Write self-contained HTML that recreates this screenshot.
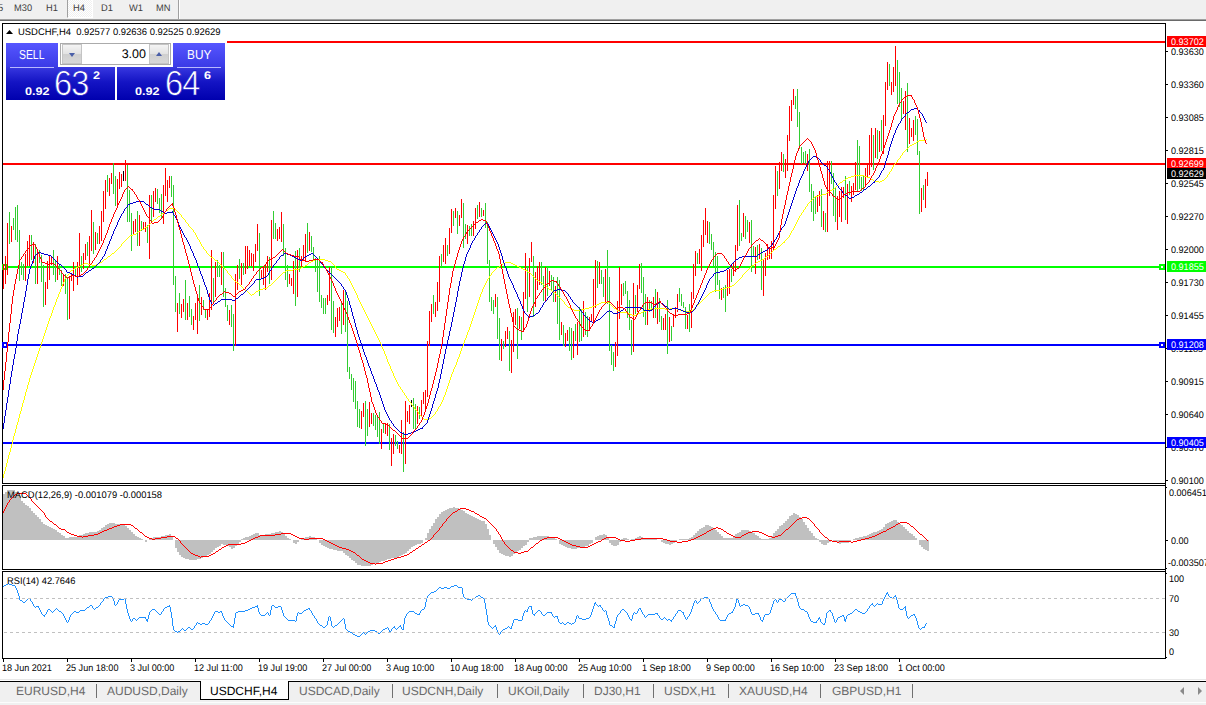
<!DOCTYPE html>
<html><head><meta charset="utf-8"><title>USDCHF,H4</title>
<style>
html,body{margin:0;padding:0;background:#fff;}
body{width:1206px;height:705px;position:relative;overflow:hidden;font-family:"Liberation Sans",sans-serif;text-rendering:geometricPrecision;}
.t{position:absolute;white-space:nowrap;line-height:10px;transform-origin:0 0;font-family:"Liberation Sans",sans-serif;}
.lb{position:absolute;left:1167px;width:39px;height:11px;white-space:nowrap;overflow:hidden;}
.lb span{position:absolute;left:4px;top:1px;font-size:9.6px;line-height:11px;transform:scaleX(0.945);transform-origin:0 0;}
#tb{position:absolute;left:0;top:0;width:1206px;height:19px;background:#f0f0f0;}
#tb span{position:absolute;top:3px;font-size:9px;line-height:11px;color:#3c3c3c;}
#tbl1{position:absolute;left:0;top:19px;width:1206px;height:1px;background:#a0a0a0;}
#tbl2{position:absolute;left:0;top:20px;width:1206px;height:1px;background:#696969;}
#tabs{position:absolute;left:0;top:679px;width:1206px;height:26px;}
svg{position:absolute;left:0;top:0;}

#h4sel{position:absolute;left:67px;top:0;width:26px;height:18px;box-sizing:border-box;border-left:1px solid #a0a0a0;border-right:1px solid #fff;border-bottom:1px solid #fff;background:repeating-conic-gradient(#ffffff 0% 25%,#f0f0f0 0% 50%) 0 0/2px 2px;}
#tbsep1{position:absolute;left:178px;top:0;width:1px;height:19px;background:#a0a0a0;}
#tbsep2{position:absolute;left:179px;top:0;width:1px;height:19px;background:#fff;}
#tbt span{position:absolute;top:3px;font-size:9.6px;line-height:11px;color:#404040;transform:scaleX(0.969);transform-origin:0 0;font-family:"Liberation Sans",sans-serif;}
#pn{position:absolute;left:6px;top:43px;width:219px;height:57px;font-family:"Liberation Sans",sans-serif;}
#pn>*{position:absolute;}
.pb{background:linear-gradient(#5656ff,#3a3ae6);}
.pl{background:linear-gradient(#3838e0,#1414c4 45%,#0000ae);}
.ul{height:1px;background:#b8b8ff;}
#spin{left:54px;top:0;width:111px;height:22px;box-sizing:border-box;border:1px solid #ababab;background:#fff;}
.sb{position:absolute;top:0px;width:20px;height:20px;background:linear-gradient(#f4f4f4,#e2e2e2 50%,#cfcfcf 51%,#d8d8d8);border:1px solid #c4c4c4;box-sizing:border-box;}
.sb i{position:absolute;left:6px;width:0;height:0;border-left:3px solid transparent;border-right:3px solid transparent;}
.sb i.dn{top:8px;border-top:4px solid #4a5fa8;}
.sb i.up{top:7px;border-bottom:4px solid #4a5fa8;}
#vol{position:absolute;right:24px;top:3px;font-size:12.5px;line-height:14px;color:#000;}
.bt{top:5px;font-size:13px;line-height:14px;color:#fff;}
.sm{font-size:11px;line-height:13px;font-weight:bold;color:#fff;transform:scaleX(1.15);transform-origin:0 0;}
.bg{font-size:35px;line-height:36px;color:#fff;-webkit-text-stroke:0.7px #1a1aca;transform:scaleX(0.93);transform-origin:0 0;letter-spacing:-1px;}
#tabbg{position:absolute;left:0;top:3px;width:1206px;height:23px;background:linear-gradient(#f0f0f0 20px,#fcfcfc 20px,#fcfcfc 21px,#f0f0f0 21px);}
#tabln0{position:absolute;left:0;top:0;width:1206px;height:1px;background:#e8e8e8;}
#tabln{position:absolute;left:0;top:2px;width:1206px;height:1px;background:#000;}
#tabact{position:absolute;left:201px;top:1px;width:87px;height:19px;background:#fff;}
#tabactb{position:absolute;left:200px;top:2px;width:89px;height:19px;border:1px solid #000;border-top:none;box-sizing:border-box;}
.tn{position:absolute;top:5px;font-size:12px;line-height:14px;color:#6a6a6a;white-space:nowrap;font-family:"Liberation Sans",sans-serif;}
.tn.act{color:#000;}
.tsep{position:absolute;top:5px;width:1px;height:14px;background:#707070;}
.arl{position:absolute;left:1180px;top:8px;width:0;height:0;border-top:4px solid transparent;border-bottom:4px solid transparent;border-right:4px solid #8a8a8a;}
.arr{position:absolute;left:1198px;top:8px;width:0;height:0;border-top:4px solid transparent;border-bottom:4px solid transparent;border-left:4px solid #8a8a8a;}
</style></head><body>
<div id="tb"></div><div id="tbl1"></div><div id="tbl2"></div>

<div id="h4sel"></div>
<div id="tbsep1"></div><div id="tbsep2"></div>
<div id="tbt">
<span style="left:-2px">5</span><span style="left:14px">M30</span><span style="left:46px">H1</span><span style="left:73px">H4</span><span style="left:101px">D1</span><span style="left:129px">W1</span><span style="left:156px">MN</span>
</div>

<svg width="1206" height="705" viewBox="0 0 1206 705">
<g shape-rendering="crispEdges">
<rect x="227" y="41" width="938" height="2" fill="#ff0000"/>
<rect x="3" y="163" width="1162" height="2" fill="#ff0000"/>
<rect x="3" y="266" width="1162" height="2" fill="#00ff00"/>
<rect x="3" y="344" width="1162" height="2" fill="#0000ff"/>
<rect x="3" y="442" width="1162" height="2" fill="#0000ff"/>
<path d="M2 264h6v6h-6z M1159 264h6v6h-6z" fill="#00ff00"/>
<path d="M4 266h2v2h-2z M1161 266h2v2h-2z" fill="#fff"/>
<path d="M2 342h6v6h-6z M1159 342h6v6h-6z" fill="#0000ff"/>
<path d="M4 344h2v2h-2z M1161 344h2v2h-2z" fill="#fff"/>
<path d="M9 212v32h1v-32zM13 218v12h1v-12zM15 207v33h1v-33zM17 205v37h1v-37zM19 230v51h1v-51zM21 262v13h1v-13zM23 264v16h1v-16zM31 235v25h1v-25zM35 244v40h1v-40zM39 250v13h1v-13zM41 255v27h1v-27zM43 265v42h1v-42zM53 250v25h1v-25zM55 260v22h1v-22zM59 264v11h1v-11zM61 270v16h1v-16zM65 274v20h1v-20zM67 277v43h1v-43zM75 267v10h1v-10zM81 256v16h1v-16zM87 242v14h1v-14zM93 222v32h1v-32zM97 233v11h1v-11zM107 175v17h1v-17zM113 163v31h1v-31zM115 176v30h1v-30zM127 165v57h1v-57zM129 190v32h1v-32zM131 213v38h1v-38zM137 211v35h1v-35zM141 221v10h1v-10zM147 225v18h1v-18zM151 195v27h1v-27zM157 189v15h1v-15zM159 198v15h1v-15zM161 194v25h1v-25zM171 176v21h1v-21zM173 185v100h1v-100zM175 276v36h1v-36zM179 293v21h1v-21zM185 280v40h1v-40zM189 296v21h1v-21zM191 309v16h1v-16zM199 285v36h1v-36zM203 300v10h1v-10zM205 310v8h1v-8zM213 278v25h1v-25zM217 260v17h1v-17zM219 265v12h1v-12zM223 252v45h1v-45zM225 288v19h1v-19zM227 305v16h1v-16zM231 305v22h1v-22zM233 314v37h1v-37zM239 259v20h1v-20zM243 263v12h1v-12zM259 233v63h1v-63zM269 257v27h1v-27zM273 211v28h1v-28zM275 223v16h1v-16zM283 224v32h1v-32zM285 248v32h1v-32zM287 265v22h1v-22zM295 251v55h1v-55zM299 248v24h1v-24zM307 223v30h1v-30zM311 236v16h1v-16zM313 247v13h1v-13zM315 258v14h1v-14zM317 259v33h1v-33zM319 256v46h1v-46zM321 295v13h1v-13zM323 298v16h1v-16zM325 298v16h1v-16zM331 267v63h1v-63zM333 301v32h1v-32zM341 301v33h1v-33zM345 292v40h1v-40zM347 301v71h1v-71zM349 367v12h1v-12zM351 374v16h1v-16zM353 378v24h1v-24zM355 381v28h1v-28zM357 401v26h1v-26zM359 409v19h1v-19zM365 401v45h1v-45zM367 409v27h1v-27zM373 413v13h1v-13zM375 415v15h1v-15zM377 417v20h1v-20zM379 412v32h1v-32zM383 424v9h1v-9zM389 424v26h1v-26zM395 435v11h1v-11zM397 441v8h1v-8zM403 432v40h1v-40zM413 398v31h1v-31zM415 404v26h1v-26zM419 407v12h1v-12zM433 295v19h1v-19zM441 254v13h1v-13zM447 245v11h1v-11zM453 211v15h1v-15zM457 211v23h1v-23zM463 203v45h1v-45zM465 224v15h1v-15zM469 226v10h1v-10zM471 224v12h1v-12zM477 205v14h1v-14zM481 208v9h1v-9zM485 203v25h1v-25zM487 222v42h1v-42zM489 260v42h1v-42zM491 297v14h1v-14zM493 300v14h1v-14zM497 297v42h1v-42zM499 318v42h1v-42zM503 341v8h1v-8zM509 331v40h1v-40zM517 308v51h1v-51zM521 317v23h1v-23zM527 267v45h1v-45zM533 256v61h1v-61zM541 262v23h1v-23zM543 276v25h1v-25zM547 267v29h1v-29zM551 275v16h1v-16zM553 277v25h1v-25zM557 277v47h1v-47zM559 280v60h1v-60zM563 325v21h1v-21zM569 327v24h1v-24zM571 328v32h1v-32zM575 324v17h1v-17zM579 307v35h1v-35zM581 309v32h1v-32zM585 312v23h1v-23zM587 316v21h1v-21zM597 261v27h1v-27zM601 270v14h1v-14zM603 277v20h1v-20zM607 250v54h1v-54zM609 277v74h1v-74zM611 345v20h1v-20zM613 352v19h1v-19zM623 283v13h1v-13zM625 281v13h1v-13zM627 291v27h1v-27zM629 300v30h1v-30zM631 320v35h1v-35zM635 295v19h1v-19zM641 263v30h1v-30zM643 277v40h1v-40zM645 294v31h1v-31zM649 300v12h1v-12zM651 301v9h1v-9zM655 289v29h1v-29zM659 298v24h1v-24zM661 316v14h1v-14zM667 300v54h1v-54zM671 326v15h1v-15zM679 288v14h1v-14zM681 294v12h1v-12zM683 302v6h1v-6zM685 307v22h1v-22zM689 304v28h1v-28zM697 253v11h1v-11zM709 222v22h1v-22zM711 234v16h1v-16zM713 242v24h1v-24zM715 252v40h1v-40zM717 256v29h1v-29zM719 280v19h1v-19zM723 287v11h1v-11zM725 285v27h1v-27zM731 269v13h1v-13zM739 200v46h1v-46zM741 233v8h1v-8zM745 216v23h1v-23zM747 220v12h1v-12zM751 220v52h1v-52zM753 246v11h1v-11zM757 245v15h1v-15zM761 248v42h1v-42zM777 171v25h1v-25zM783 154v18h1v-18zM795 96v13h1v-13zM797 89v38h1v-38zM799 112v37h1v-37zM801 147v17h1v-17zM803 152v11h1v-11zM805 151v13h1v-13zM809 149v43h1v-43zM811 184v28h1v-28zM813 191v30h1v-30zM815 197v17h1v-17zM821 189v38h1v-38zM825 213v19h1v-19zM831 161v23h1v-23zM833 173v43h1v-43zM835 187v35h1v-35zM845 176v44h1v-44zM849 181v14h1v-14zM857 140v52h1v-52zM859 146v43h1v-43zM861 177v14h1v-14zM863 175v15h1v-15zM873 135v35h1v-35zM877 130v29h1v-29zM881 120v31h1v-31zM889 64v22h1v-22zM897 60v44h1v-44zM899 72v35h1v-35zM901 88v31h1v-31zM907 83v69h1v-69zM915 116v19h1v-19zM917 119v36h1v-36zM919 151v63h1v-63zM923 185v15h1v-15z" fill="#32cd32"/>
<path d="M3 264v25h1v-25zM5 256v28h1v-28zM7 223v52h1v-52zM11 226v16h1v-16zM25 254v27h1v-27zM27 241v25h1v-25zM29 235v31h1v-31zM33 242v21h1v-21zM37 250v34h1v-34zM45 282v23h1v-23zM47 261v28h1v-28zM49 255v25h1v-25zM51 256v9h1v-9zM57 256v24h1v-24zM63 274v12h1v-12zM69 276v43h1v-43zM71 274v7h1v-7zM73 262v29h1v-29zM77 262v23h1v-23zM79 233v44h1v-44zM83 253v16h1v-16zM85 244v16h1v-16zM89 236v28h1v-28zM91 210v41h1v-41zM95 232v18h1v-18zM99 226v18h1v-18zM101 211v30h1v-30zM103 191v31h1v-31zM105 180v29h1v-29zM109 178v18h1v-18zM111 173v11h1v-11zM117 179v28h1v-28zM119 172v17h1v-17zM121 174v13h1v-13zM125 160v21h1v-21zM133 221v14h1v-14zM135 219v13h1v-13zM139 215v31h1v-31zM143 222v7h1v-7zM145 222v10h1v-10zM149 195v64h1v-64zM153 191v26h1v-26zM155 188v14h1v-14zM163 185v39h1v-39zM165 168v28h1v-28zM167 180v22h1v-22zM169 176v12h1v-12zM177 303v29h1v-29zM181 304v14h1v-14zM183 299v13h1v-13zM187 303v17h1v-17zM193 316v14h1v-14zM195 303v17h1v-17zM197 294v40h1v-40zM201 297v18h1v-18zM207 310v10h1v-10zM209 293v24h1v-24zM211 250v60h1v-60zM215 262v35h1v-35zM221 252v33h1v-33zM229 310v15h1v-15zM235 274v72h1v-72zM237 265v25h1v-25zM241 263v22h1v-22zM245 246v28h1v-28zM247 246v23h1v-23zM249 250v16h1v-16zM251 253v13h1v-13zM253 254v17h1v-17zM255 244v18h1v-18zM257 224v27h1v-27zM261 270v8h1v-8zM263 267v18h1v-18zM265 264v26h1v-26zM267 256v16h1v-16zM271 220v60h1v-60zM277 229v12h1v-12zM279 227v12h1v-12zM281 212v30h1v-30zM289 274v10h1v-10zM291 278v8h1v-8zM293 261v33h1v-33zM297 250v47h1v-47zM301 256v11h1v-11zM303 245v15h1v-15zM305 234v28h1v-28zM309 232v19h1v-19zM327 295v10h1v-10zM329 267v34h1v-34zM335 317v20h1v-20zM337 308v19h1v-19zM339 307v14h1v-14zM343 290v35h1v-35zM361 411v18h1v-18zM363 403v14h1v-14zM369 402v25h1v-25zM371 413v11h1v-11zM381 429v20h1v-20zM385 423v11h1v-11zM387 423v13h1v-13zM391 438v28h1v-28zM393 434v20h1v-20zM399 445v8h1v-8zM401 420v34h1v-34zM405 401v63h1v-63zM407 411v11h1v-11zM409 405v19h1v-19zM417 406v18h1v-18zM421 400v16h1v-16zM423 392v12h1v-12zM425 390v20h1v-20zM427 341v56h1v-56zM429 311v35h1v-35zM431 304v18h1v-18zM435 302v15h1v-15zM437 282v29h1v-29zM439 256v46h1v-46zM443 245v17h1v-17zM445 238v26h1v-26zM449 228v26h1v-26zM451 209v24h1v-24zM455 208v10h1v-10zM459 215v11h1v-11zM461 199v19h1v-19zM467 225v19h1v-19zM473 221v15h1v-15zM475 208v21h1v-21zM479 202v15h1v-15zM483 210v6h1v-6zM495 294v13h1v-13zM501 339v22h1v-22zM505 331v16h1v-16zM507 327v12h1v-12zM511 340v33h1v-33zM513 312v40h1v-40zM515 309v16h1v-16zM519 316v13h1v-13zM523 292v39h1v-39zM525 253v46h1v-46zM529 258v39h1v-39zM531 242v20h1v-20zM535 272v35h1v-35zM537 266v24h1v-24zM539 262v23h1v-23zM545 267v34h1v-34zM549 271v15h1v-15zM555 286v16h1v-16zM561 322v13h1v-13zM565 333v14h1v-14zM567 330v11h1v-11zM573 331v27h1v-27zM577 322v33h1v-33zM583 301v36h1v-36zM589 317v14h1v-14zM591 314v8h1v-8zM593 279v44h1v-44zM595 260v48h1v-48zM599 262v22h1v-22zM605 269v33h1v-33zM615 342v25h1v-25zM617 301v55h1v-55zM619 267v52h1v-52zM621 284v21h1v-21zM633 283v69h1v-69zM637 285v27h1v-27zM639 264v25h1v-25zM647 297v28h1v-28zM653 297v21h1v-21zM657 292v32h1v-32zM663 318v12h1v-12zM665 314v16h1v-16zM669 317v25h1v-25zM673 314v13h1v-13zM675 307v11h1v-11zM677 294v18h1v-18zM687 315v14h1v-14zM691 292v36h1v-36zM693 264v35h1v-35zM695 251v25h1v-25zM699 249v15h1v-15zM701 235v36h1v-36zM703 220v27h1v-27zM705 208v27h1v-27zM707 221v22h1v-22zM721 288v12h1v-12zM727 270v26h1v-26zM729 269v25h1v-25zM733 262v14h1v-14zM735 245v27h1v-27zM737 205v46h1v-46zM743 213v24h1v-24zM749 222v21h1v-21zM755 247v27h1v-27zM759 244v15h1v-15zM763 259v37h1v-37zM765 253v23h1v-23zM767 244v16h1v-16zM769 247v12h1v-12zM771 241v18h1v-18zM773 195v55h1v-55zM775 166v43h1v-43zM779 162v27h1v-27zM781 152v19h1v-19zM785 159v19h1v-19zM787 135v36h1v-36zM789 106v35h1v-35zM791 100v21h1v-21zM793 89v16h1v-16zM807 154v17h1v-17zM817 195v17h1v-17zM819 191v15h1v-15zM823 211v19h1v-19zM827 161v71h1v-71zM829 161v35h1v-35zM837 196v34h1v-34zM839 191v26h1v-26zM841 187v35h1v-35zM843 187v11h1v-11zM847 184v40h1v-40zM851 186v16h1v-16zM853 183v12h1v-12zM855 162v28h1v-28zM865 168v18h1v-18zM867 165v12h1v-12zM869 135v40h1v-40zM871 128v39h1v-39zM875 128v30h1v-30zM879 131v21h1v-21zM883 115v39h1v-39zM885 82v44h1v-44zM887 62v28h1v-28zM891 82v13h1v-13zM893 67v25h1v-25zM895 46v40h1v-40zM903 101v13h1v-13zM905 91v39h1v-39zM909 118v26h1v-26zM911 128v9h1v-9zM913 120v21h1v-21zM921 188v24h1v-24zM925 179v29h1v-29zM927 172v14h1v-14z" fill="#ff0000"/>
<path d="M123 171v10h1v-10zM411 400v7h1v-7z" fill="#000000"/>
<path d="M3 494h2V540h-2zM5 492h2V540h-2zM7 490h2V540h-2zM9 490h2V540h-2zM11 490h2V540h-2zM13 490h2V540h-2zM15 492h2V540h-2zM17 494h2V540h-2zM19 496h2V540h-2zM21 501h2V540h-2zM23 503h2V540h-2zM25 505h2V540h-2zM27 506h2V540h-2zM29 508h2V540h-2zM31 511h2V540h-2zM33 513h2V540h-2zM35 515h2V540h-2zM37 517h2V540h-2zM39 519h2V540h-2zM41 522h2V540h-2zM43 524h2V540h-2zM45 525h2V540h-2zM47 526h2V540h-2zM49 527h2V540h-2zM51 528h2V540h-2zM53 529h2V540h-2zM55 530h2V540h-2zM57 532h2V540h-2zM59 533h2V540h-2zM61 535h2V540h-2zM63 536h2V540h-2zM65 538h2V540h-2zM67 538h2V540h-2zM69 537h2V540h-2zM71 537h2V540h-2zM73 537h2V540h-2zM75 537h2V540h-2zM77 536h2V540h-2zM79 535h2V540h-2zM81 535h2V540h-2zM83 534h2V540h-2zM85 533h2V540h-2zM87 533h2V540h-2zM89 532h2V540h-2zM91 532h2V540h-2zM93 532h2V540h-2zM95 532h2V540h-2zM97 531h2V540h-2zM99 530h2V540h-2zM101 528h2V540h-2zM103 527h2V540h-2zM105 525h2V540h-2zM107 524h2V540h-2zM109 523h2V540h-2zM111 523h2V540h-2zM113 523h2V540h-2zM115 524h2V540h-2zM117 524h2V540h-2zM119 524h2V540h-2zM121 525h2V540h-2zM123 525h2V540h-2zM125 526h2V540h-2zM127 528h2V540h-2zM129 530h2V540h-2zM131 532h2V540h-2zM133 534h2V540h-2zM135 536h2V540h-2zM137 537h2V540h-2zM139 538h2V540h-2zM141 539h2V540h-2zM145 540h2V542h-2zM149 539h2V540h-2zM151 538h2V540h-2zM153 537h2V540h-2zM155 537h2V540h-2zM157 537h2V540h-2zM159 537h2V540h-2zM161 536h2V540h-2zM163 536h2V540h-2zM165 535h2V540h-2zM167 535h2V540h-2zM169 534h2V540h-2zM171 536h2V540h-2zM175 540h2V548h-2zM177 540h2V552h-2zM179 540h2V555h-2zM181 540h2V557h-2zM183 540h2V558h-2zM185 540h2V559h-2zM187 540h2V559h-2zM189 540h2V560h-2zM191 540h2V560h-2zM193 540h2V560h-2zM195 540h2V560h-2zM197 540h2V559h-2zM199 540h2V559h-2zM201 540h2V558h-2zM203 540h2V557h-2zM205 540h2V556h-2zM207 540h2V555h-2zM209 540h2V554h-2zM211 540h2V552h-2zM213 540h2V550h-2zM215 540h2V548h-2zM217 540h2V547h-2zM219 540h2V546h-2zM221 540h2V544h-2zM223 540h2V545h-2zM225 540h2V545h-2zM227 540h2V546h-2zM229 540h2V547h-2zM231 540h2V549h-2zM233 540h2V548h-2zM235 540h2V546h-2zM237 540h2V544h-2zM239 540h2V542h-2zM241 539h2V540h-2zM243 538h2V540h-2zM245 537h2V540h-2zM247 537h2V540h-2zM249 536h2V540h-2zM251 535h2V540h-2zM253 534h2V540h-2zM255 533h2V540h-2zM257 533h2V540h-2zM259 535h2V540h-2zM261 535h2V540h-2zM263 535h2V540h-2zM265 534h2V540h-2zM267 534h2V540h-2zM269 534h2V540h-2zM271 533h2V540h-2zM273 533h2V540h-2zM275 532h2V540h-2zM277 532h2V540h-2zM279 531h2V540h-2zM281 532h2V540h-2zM283 534h2V540h-2zM285 536h2V540h-2zM287 538h2V540h-2zM289 539h2V540h-2zM293 540h2V543h-2zM295 540h2V544h-2zM297 540h2V542h-2zM301 539h2V540h-2zM303 538h2V540h-2zM305 537h2V540h-2zM307 537h2V540h-2zM309 536h2V540h-2zM311 537h2V540h-2zM313 537h2V540h-2zM315 539h2V540h-2zM319 540h2V543h-2zM321 540h2V545h-2zM323 540h2V546h-2zM325 540h2V547h-2zM327 540h2V548h-2zM329 540h2V549h-2zM331 540h2V549h-2zM333 540h2V550h-2zM335 540h2V550h-2zM337 540h2V551h-2zM339 540h2V551h-2zM341 540h2V551h-2zM343 540h2V553h-2zM345 540h2V555h-2zM347 540h2V556h-2zM349 540h2V558h-2zM351 540h2V560h-2zM353 540h2V561h-2zM355 540h2V563h-2zM357 540h2V565h-2zM359 540h2V565h-2zM361 540h2V566h-2zM363 540h2V566h-2zM365 540h2V566h-2zM367 540h2V566h-2zM369 540h2V566h-2zM371 540h2V565h-2zM373 540h2V564h-2zM375 540h2V564h-2zM377 540h2V563h-2zM379 540h2V562h-2zM381 540h2V561h-2zM383 540h2V561h-2zM385 540h2V560h-2zM387 540h2V559h-2zM389 540h2V559h-2zM391 540h2V558h-2zM393 540h2V558h-2zM395 540h2V558h-2zM397 540h2V557h-2zM399 540h2V556h-2zM401 540h2V555h-2zM403 540h2V554h-2zM405 540h2V553h-2zM407 540h2V551h-2zM409 540h2V549h-2zM411 540h2V547h-2zM413 540h2V546h-2zM415 540h2V545h-2zM417 540h2V544h-2zM419 540h2V544h-2zM421 540h2V543h-2zM425 538h2V540h-2zM427 533h2V540h-2zM429 529h2V540h-2zM431 526h2V540h-2zM433 523h2V540h-2zM435 519h2V540h-2zM437 517h2V540h-2zM439 514h2V540h-2zM441 512h2V540h-2zM443 511h2V540h-2zM445 510h2V540h-2zM447 509h2V540h-2zM449 508h2V540h-2zM451 508h2V540h-2zM453 507h2V540h-2zM455 508h2V540h-2zM457 508h2V540h-2zM459 509h2V540h-2zM461 510h2V540h-2zM463 511h2V540h-2zM465 513h2V540h-2zM467 514h2V540h-2zM469 515h2V540h-2zM471 516h2V540h-2zM473 517h2V540h-2zM475 518h2V540h-2zM477 519h2V540h-2zM479 520h2V540h-2zM481 521h2V540h-2zM483 521h2V540h-2zM485 524h2V540h-2zM487 529h2V540h-2zM489 535h2V540h-2zM493 540h2V544h-2zM495 540h2V547h-2zM497 540h2V550h-2zM499 540h2V553h-2zM501 540h2V554h-2zM503 540h2V555h-2zM505 540h2V556h-2zM507 540h2V556h-2zM509 540h2V557h-2zM511 540h2V556h-2zM513 540h2V554h-2zM515 540h2V553h-2zM517 540h2V551h-2zM519 540h2V550h-2zM521 540h2V548h-2zM523 540h2V546h-2zM525 540h2V545h-2zM527 540h2V542h-2zM529 538h2V540h-2zM531 538h2V540h-2zM533 537h2V540h-2zM535 537h2V540h-2zM537 536h2V540h-2zM539 536h2V540h-2zM541 536h2V540h-2zM543 536h2V540h-2zM545 536h2V540h-2zM547 536h2V540h-2zM549 537h2V540h-2zM551 537h2V540h-2zM553 538h2V540h-2zM555 539h2V540h-2zM559 540h2V544h-2zM561 540h2V545h-2zM563 540h2V546h-2zM565 540h2V547h-2zM567 540h2V548h-2zM569 540h2V548h-2zM571 540h2V549h-2zM573 540h2V549h-2zM575 540h2V549h-2zM577 540h2V548h-2zM579 540h2V548h-2zM581 540h2V547h-2zM583 540h2V547h-2zM585 540h2V546h-2zM587 540h2V546h-2zM589 540h2V544h-2zM591 540h2V543h-2zM595 537h2V540h-2zM597 536h2V540h-2zM599 535h2V540h-2zM601 535h2V540h-2zM603 534h2V540h-2zM605 535h2V540h-2zM607 538h2V540h-2zM609 540h2V543h-2zM611 540h2V545h-2zM613 540h2V546h-2zM615 540h2V546h-2zM617 540h2V545h-2zM619 540h2V542h-2zM621 539h2V540h-2zM623 538h2V540h-2zM625 538h2V540h-2zM627 539h2V540h-2zM631 539h2V540h-2zM633 539h2V540h-2zM635 538h2V540h-2zM637 537h2V540h-2zM639 536h2V540h-2zM641 537h2V540h-2zM643 538h2V540h-2zM645 538h2V540h-2zM647 538h2V540h-2zM649 538h2V540h-2zM651 538h2V540h-2zM653 539h2V540h-2zM655 539h2V540h-2zM661 540h2V542h-2zM663 540h2V543h-2zM665 540h2V544h-2zM667 540h2V544h-2zM669 540h2V545h-2zM671 540h2V544h-2zM673 540h2V543h-2zM675 540h2V542h-2zM679 539h2V540h-2zM681 539h2V540h-2zM683 539h2V540h-2zM685 539h2V540h-2zM687 539h2V540h-2zM689 538h2V540h-2zM691 537h2V540h-2zM693 535h2V540h-2zM695 533h2V540h-2zM697 531h2V540h-2zM699 529h2V540h-2zM701 528h2V540h-2zM703 527h2V540h-2zM705 525h2V540h-2zM707 525h2V540h-2zM709 526h2V540h-2zM711 527h2V540h-2zM713 529h2V540h-2zM715 530h2V540h-2zM717 532h2V540h-2zM719 534h2V540h-2zM721 536h2V540h-2zM723 538h2V540h-2zM725 538h2V540h-2zM727 538h2V540h-2zM729 538h2V540h-2zM731 538h2V540h-2zM733 536h2V540h-2zM735 534h2V540h-2zM737 533h2V540h-2zM739 532h2V540h-2zM741 530h2V540h-2zM743 530h2V540h-2zM745 530h2V540h-2zM747 530h2V540h-2zM749 531h2V540h-2zM751 532h2V540h-2zM753 533h2V540h-2zM755 535h2V540h-2zM757 536h2V540h-2zM759 538h2V540h-2zM761 539h2V540h-2zM763 539h2V540h-2zM765 539h2V540h-2zM767 539h2V540h-2zM769 538h2V540h-2zM771 536h2V540h-2zM773 533h2V540h-2zM775 531h2V540h-2zM777 529h2V540h-2zM779 526h2V540h-2zM781 525h2V540h-2zM783 523h2V540h-2zM785 521h2V540h-2zM787 519h2V540h-2zM789 516h2V540h-2zM791 515h2V540h-2zM793 513h2V540h-2zM795 514h2V540h-2zM797 515h2V540h-2zM799 517h2V540h-2zM801 519h2V540h-2zM803 522h2V540h-2zM805 525h2V540h-2zM807 528h2V540h-2zM809 531h2V540h-2zM811 533h2V540h-2zM813 536h2V540h-2zM815 538h2V540h-2zM817 539h2V540h-2zM819 540h2V542h-2zM821 540h2V544h-2zM823 540h2V545h-2zM825 540h2V545h-2zM827 540h2V543h-2zM829 540h2V542h-2zM833 540h2V542h-2zM835 540h2V542h-2zM837 540h2V543h-2zM839 540h2V544h-2zM841 540h2V543h-2zM843 540h2V543h-2zM845 540h2V543h-2zM847 540h2V543h-2zM849 540h2V542h-2zM853 539h2V540h-2zM855 538h2V540h-2zM857 538h2V540h-2zM859 537h2V540h-2zM861 537h2V540h-2zM863 536h2V540h-2zM865 536h2V540h-2zM867 535h2V540h-2zM869 534h2V540h-2zM871 533h2V540h-2zM873 532h2V540h-2zM875 532h2V540h-2zM877 531h2V540h-2zM879 530h2V540h-2zM881 529h2V540h-2zM883 527h2V540h-2zM885 524h2V540h-2zM887 523h2V540h-2zM889 522h2V540h-2zM891 521h2V540h-2zM893 520h2V540h-2zM895 520h2V540h-2zM897 522h2V540h-2zM899 524h2V540h-2zM901 525h2V540h-2zM903 527h2V540h-2zM905 529h2V540h-2zM907 531h2V540h-2zM909 533h2V540h-2zM911 534h2V540h-2zM913 536h2V540h-2zM915 538h2V540h-2zM919 540h2V545h-2zM921 540h2V547h-2zM923 540h2V549h-2zM925 540h2V550h-2zM927 540h2V551h-2z" fill="#c0c0c0"/>
</g>
<g shape-rendering="crispEdges">
<path d="M3 474h1v4h-1zM4 471h1v3h-1zM5 467h1v4h-1zM6 463h1v4h-1zM7 459h1v4h-1zM8 455h1v4h-1zM9 452h1v3h-1zM10 448h1v4h-1zM11 444h1v4h-1zM12 440h1v4h-1zM13 436h1v4h-1zM14 433h1v3h-1zM15 429h1v4h-1zM16 425h1v4h-1zM17 422h1v3h-1zM18 418h1v4h-1zM19 414h1v4h-1zM20 411h1v3h-1zM21 407h1v4h-1zM22 403h1v4h-1zM23 400h1v3h-1zM24 396h1v4h-1zM25 392h1v4h-1zM26 389h1v3h-1zM27 385h1v4h-1zM28 382h1v3h-1zM29 378h1v4h-1zM30 375h1v3h-1zM31 372h1v3h-1zM32 369h1v3h-1zM33 366h1v3h-1zM34 363h1v3h-1zM35 360h1v3h-1zM36 357h1v3h-1zM37 354h1v3h-1zM38 351h1v3h-1zM39 348h1v3h-1zM40 345h1v3h-1zM41 342h1v3h-1zM42 339h1v3h-1zM43 336h1v3h-1zM44 333h1v3h-1zM45 330h1v3h-1zM46 327h1v3h-1zM47 324h1v3h-1zM48 321h1v3h-1zM49 318h1v3h-1zM50 316h1v2h-1zM51 313h1v3h-1zM52 310h1v3h-1zM53 307h1v3h-1zM54 305h1v2h-1zM55 302h1v3h-1zM56 299h1v3h-1zM57 297h1v2h-1zM58 294h1v3h-1zM59 292h1v2h-1zM60 289h1v3h-1zM61 287h1v2h-1zM62 284h1v3h-1zM63 282h1v2h-1zM64 279h1v3h-1zM65 278h1v1h-1zM66 276h1v2h-1zM67 275h1v1h-1zM68 274h1v1h-1zM69 272h1v2h-1zM70 271h1v1h-1zM71 270h1v1h-1zM72 270h1v1h-1zM73 269h1v1h-1zM74 268h1v1h-1zM75 268h1v1h-1zM76 267h1v1h-1zM77 267h1v1h-1zM78 266h1v1h-1zM79 266h1v1h-1zM80 265h1v1h-1zM81 265h1v1h-1zM82 264h1v1h-1zM83 264h1v1h-1zM84 263h1v1h-1zM85 263h1v1h-1zM86 263h1v1h-1zM87 263h1v1h-1zM88 264h1v1h-1zM89 264h1v1h-1zM90 264h1v1h-1zM91 264h1v1h-1zM92 265h1v1h-1zM93 265h1v1h-1zM94 265h1v1h-1zM95 265h1v1h-1zM96 264h1v1h-1zM97 264h1v1h-1zM98 263h1v1h-1zM99 263h1v1h-1zM100 262h1v1h-1zM101 262h1v1h-1zM102 261h1v1h-1zM103 260h1v1h-1zM104 259h1v1h-1zM105 259h1v1h-1zM106 258h1v1h-1zM107 257h1v1h-1zM108 256h1v1h-1zM109 256h1v1h-1zM110 255h1v1h-1zM111 254h1v1h-1zM112 253h1v1h-1zM113 253h1v1h-1zM114 252h1v1h-1zM115 251h1v1h-1zM116 250h1v1h-1zM117 249h1v1h-1zM118 248h1v1h-1zM119 247h1v1h-1zM120 246h1v1h-1zM121 244h1v2h-1zM122 243h1v1h-1zM123 242h1v1h-1zM124 241h1v1h-1zM125 240h1v1h-1zM126 239h1v1h-1zM127 238h1v1h-1zM128 237h1v1h-1zM129 236h1v1h-1zM130 235h1v1h-1zM131 235h1v1h-1zM132 235h1v1h-1zM133 234h1v1h-1zM134 234h1v1h-1zM135 234h1v1h-1zM136 233h1v1h-1zM137 232h1v1h-1zM138 231h1v1h-1zM139 231h1v1h-1zM140 230h1v1h-1zM141 229h1v1h-1zM142 229h1v1h-1zM143 229h1v1h-1zM144 228h1v1h-1zM145 227h1v1h-1zM146 227h1v1h-1zM147 226h1v1h-1zM148 225h1v1h-1zM149 224h1v1h-1zM150 223h1v1h-1zM151 222h1v1h-1zM152 221h1v1h-1zM153 220h1v1h-1zM154 219h1v1h-1zM155 219h1v1h-1zM156 218h1v1h-1zM157 217h1v1h-1zM158 216h1v1h-1zM159 216h1v1h-1zM160 215h1v1h-1zM161 214h1v1h-1zM162 213h1v1h-1zM163 213h1v1h-1zM164 212h1v1h-1zM165 211h1v1h-1zM166 210h1v1h-1zM167 210h1v1h-1zM168 209h1v1h-1zM169 208h1v1h-1zM170 208h1v1h-1zM171 208h1v1h-1zM172 208h1v1h-1zM173 208h1v1h-1zM174 208h1v1h-1zM175 209h1v1h-1zM176 210h1v1h-1zM177 211h1v1h-1zM178 212h1v1h-1zM179 213h1v1h-1zM180 214h1v1h-1zM181 215h1v2h-1zM182 217h1v1h-1zM183 218h1v1h-1zM184 219h1v1h-1zM185 220h1v2h-1zM186 222h1v1h-1zM187 223h1v1h-1zM188 224h1v2h-1zM189 226h1v1h-1zM190 227h1v1h-1zM191 228h1v1h-1zM192 229h1v1h-1zM193 230h1v2h-1zM194 232h1v1h-1zM195 233h1v2h-1zM196 235h1v2h-1zM197 237h1v2h-1zM198 239h1v1h-1zM199 240h1v2h-1zM200 242h1v2h-1zM201 244h1v2h-1zM202 246h1v1h-1zM203 247h1v2h-1zM204 249h1v1h-1zM205 250h1v1h-1zM206 251h1v2h-1zM207 253h1v1h-1zM208 254h1v1h-1zM209 255h1v1h-1zM210 256h1v1h-1zM211 257h1v1h-1zM212 257h1v1h-1zM213 258h1v1h-1zM214 259h1v1h-1zM215 260h1v1h-1zM216 260h1v1h-1zM217 261h1v1h-1zM218 262h1v1h-1zM219 263h1v1h-1zM220 264h1v1h-1zM221 265h1v1h-1zM222 266h1v1h-1zM223 267h1v1h-1zM224 268h1v1h-1zM225 269h1v1h-1zM226 270h1v1h-1zM227 271h1v2h-1zM228 273h1v1h-1zM229 274h1v1h-1zM230 275h1v1h-1zM231 276h1v2h-1zM232 278h1v1h-1zM233 279h1v1h-1zM234 280h1v1h-1zM235 281h1v1h-1zM236 282h1v1h-1zM237 282h1v1h-1zM238 283h1v1h-1zM239 284h1v1h-1zM240 285h1v1h-1zM241 286h1v1h-1zM242 287h1v1h-1zM243 288h1v1h-1zM244 289h1v1h-1zM245 290h1v1h-1zM246 290h1v1h-1zM247 291h1v1h-1zM248 292h1v1h-1zM249 293h1v1h-1zM250 294h1v1h-1zM251 295h1v1h-1zM252 294h1v1h-1zM253 294h1v1h-1zM254 293h1v1h-1zM255 292h1v1h-1zM256 291h1v1h-1zM257 291h1v1h-1zM258 290h1v1h-1zM259 290h1v1h-1zM260 289h1v1h-1zM261 289h1v1h-1zM262 289h1v1h-1zM263 288h1v1h-1zM264 288h1v1h-1zM265 288h1v1h-1zM266 288h1v1h-1zM267 287h1v1h-1zM268 286h1v1h-1zM269 285h1v1h-1zM270 285h1v1h-1zM271 284h1v1h-1zM272 283h1v1h-1zM273 282h1v1h-1zM274 281h1v1h-1zM275 280h1v1h-1zM276 279h1v1h-1zM277 278h1v1h-1zM278 277h1v1h-1zM279 276h1v1h-1zM280 275h1v1h-1zM281 274h1v1h-1zM282 273h1v1h-1zM283 272h1v1h-1zM284 272h1v1h-1zM285 271h1v1h-1zM286 270h1v1h-1zM287 270h1v1h-1zM288 270h1v1h-1zM289 270h1v1h-1zM290 270h1v1h-1zM291 270h1v1h-1zM292 270h1v1h-1zM293 269h1v1h-1zM294 269h1v1h-1zM295 269h1v1h-1zM296 269h1v1h-1zM297 269h1v1h-1zM298 269h1v1h-1zM299 268h1v1h-1zM300 268h1v1h-1zM301 267h1v1h-1zM302 267h1v1h-1zM303 266h1v1h-1zM304 266h1v1h-1zM305 265h1v1h-1zM306 265h1v1h-1zM307 264h1v1h-1zM308 263h1v1h-1zM309 262h1v1h-1zM310 262h1v1h-1zM311 261h1v1h-1zM312 261h1v1h-1zM313 260h1v1h-1zM314 260h1v1h-1zM315 259h1v1h-1zM316 259h1v1h-1zM317 259h1v1h-1zM318 259h1v1h-1zM319 259h1v1h-1zM320 259h1v1h-1zM321 259h1v1h-1zM322 259h1v1h-1zM323 259h1v1h-1zM324 259h1v1h-1zM325 260h1v1h-1zM326 260h1v1h-1zM327 260h1v1h-1zM328 261h1v1h-1zM329 261h1v1h-1zM330 261h1v1h-1zM331 262h1v1h-1zM332 263h1v1h-1zM333 264h1v1h-1zM334 265h1v1h-1zM335 266h1v2h-1zM336 268h1v1h-1zM337 269h1v1h-1zM338 269h1v1h-1zM339 270h1v1h-1zM340 270h1v1h-1zM341 271h1v1h-1zM342 271h1v1h-1zM343 272h1v1h-1zM344 272h1v1h-1zM345 273h1v2h-1zM346 275h1v1h-1zM347 276h1v2h-1zM348 278h1v1h-1zM349 279h1v2h-1zM350 281h1v2h-1zM351 283h1v2h-1zM352 285h1v2h-1zM353 287h1v2h-1zM354 289h1v2h-1zM355 291h1v2h-1zM356 293h1v2h-1zM357 295h1v3h-1zM358 298h1v2h-1zM359 300h1v2h-1zM360 302h1v2h-1zM361 304h1v2h-1zM362 306h1v2h-1zM363 308h1v2h-1zM364 310h1v2h-1zM365 312h1v2h-1zM366 314h1v2h-1zM367 316h1v2h-1zM368 318h1v2h-1zM369 320h1v2h-1zM370 322h1v2h-1zM371 324h1v2h-1zM372 326h1v2h-1zM373 328h1v2h-1zM374 330h1v2h-1zM375 332h1v2h-1zM376 334h1v2h-1zM377 336h1v2h-1zM378 338h1v2h-1zM379 340h1v2h-1zM380 342h1v2h-1zM381 344h1v3h-1zM382 347h1v2h-1zM383 349h1v2h-1zM384 351h1v3h-1zM385 354h1v2h-1zM386 356h1v3h-1zM387 359h1v3h-1zM388 362h1v2h-1zM389 364h1v2h-1zM390 366h1v3h-1zM391 369h1v2h-1zM392 371h1v2h-1zM393 373h1v3h-1zM394 376h1v2h-1zM395 378h1v2h-1zM396 380h1v2h-1zM397 382h1v2h-1zM398 384h1v2h-1zM399 386h1v1h-1zM400 387h1v2h-1zM401 389h1v1h-1zM402 390h1v2h-1zM403 392h1v1h-1zM404 393h1v2h-1zM405 395h1v1h-1zM406 396h1v2h-1zM407 398h1v1h-1zM408 399h1v2h-1zM409 401h1v1h-1zM410 402h1v1h-1zM411 403h1v2h-1zM412 405h1v1h-1zM413 406h1v1h-1zM414 407h1v2h-1zM415 409h1v1h-1zM416 410h1v1h-1zM417 411h1v1h-1zM418 412h1v2h-1zM419 414h1v1h-1zM420 415h1v1h-1zM421 416h1v1h-1zM422 417h1v1h-1zM423 418h1v1h-1zM424 419h1v1h-1zM425 419h1v1h-1zM426 419h1v1h-1zM427 419h1v1h-1zM428 419h1v1h-1zM429 418h1v1h-1zM430 418h1v1h-1zM431 417h1v1h-1zM432 416h1v1h-1zM433 415h1v1h-1zM434 414h1v1h-1zM435 412h1v2h-1zM436 411h1v1h-1zM437 409h1v2h-1zM438 407h1v2h-1zM439 406h1v1h-1zM440 404h1v2h-1zM441 402h1v2h-1zM442 400h1v2h-1zM443 397h1v3h-1zM444 395h1v2h-1zM445 392h1v3h-1zM446 389h1v3h-1zM447 386h1v3h-1zM448 383h1v3h-1zM449 380h1v3h-1zM450 377h1v3h-1zM451 374h1v3h-1zM452 372h1v2h-1zM453 369h1v3h-1zM454 367h1v2h-1zM455 365h1v2h-1zM456 362h1v3h-1zM457 359h1v3h-1zM458 357h1v2h-1zM459 354h1v3h-1zM460 351h1v3h-1zM461 348h1v3h-1zM462 346h1v2h-1zM463 343h1v3h-1zM464 340h1v3h-1zM465 338h1v2h-1zM466 335h1v3h-1zM467 332h1v3h-1zM468 330h1v2h-1zM469 327h1v3h-1zM470 324h1v3h-1zM471 321h1v3h-1zM472 318h1v3h-1zM473 315h1v3h-1zM474 312h1v3h-1zM475 309h1v3h-1zM476 306h1v3h-1zM477 303h1v3h-1zM478 300h1v3h-1zM479 297h1v3h-1zM480 294h1v3h-1zM481 292h1v2h-1zM482 289h1v3h-1zM483 287h1v2h-1zM484 285h1v2h-1zM485 283h1v2h-1zM486 281h1v2h-1zM487 279h1v2h-1zM488 278h1v1h-1zM489 276h1v2h-1zM490 275h1v1h-1zM491 273h1v2h-1zM492 272h1v1h-1zM493 271h1v1h-1zM494 270h1v1h-1zM495 269h1v1h-1zM496 268h1v1h-1zM497 267h1v1h-1zM498 267h1v1h-1zM499 266h1v1h-1zM500 265h1v1h-1zM501 264h1v1h-1zM502 264h1v1h-1zM503 263h1v1h-1zM504 263h1v1h-1zM505 262h1v1h-1zM506 262h1v1h-1zM507 262h1v1h-1zM508 262h1v1h-1zM509 262h1v1h-1zM510 262h1v1h-1zM511 263h1v1h-1zM512 263h1v1h-1zM513 264h1v1h-1zM514 264h1v1h-1zM515 265h1v1h-1zM516 265h1v1h-1zM517 266h1v1h-1zM518 266h1v1h-1zM519 267h1v1h-1zM520 267h1v1h-1zM521 268h1v1h-1zM522 268h1v1h-1zM523 269h1v1h-1zM524 269h1v1h-1zM525 270h1v1h-1zM526 270h1v1h-1zM527 271h1v1h-1zM528 272h1v1h-1zM529 272h1v1h-1zM530 273h1v1h-1zM531 274h1v1h-1zM532 275h1v1h-1zM533 276h1v1h-1zM534 277h1v1h-1zM535 278h1v1h-1zM536 279h1v1h-1zM537 280h1v1h-1zM538 280h1v1h-1zM539 281h1v1h-1zM540 282h1v1h-1zM541 282h1v1h-1zM542 283h1v1h-1zM543 284h1v1h-1zM544 285h1v1h-1zM545 286h1v1h-1zM546 286h1v1h-1zM547 287h1v1h-1zM548 288h1v1h-1zM549 289h1v1h-1zM550 289h1v1h-1zM551 290h1v1h-1zM552 291h1v1h-1zM553 292h1v1h-1zM554 292h1v1h-1zM555 293h1v1h-1zM556 294h1v1h-1zM557 295h1v1h-1zM558 296h1v1h-1zM559 297h1v1h-1zM560 298h1v1h-1zM561 299h1v1h-1zM562 300h1v1h-1zM563 301h1v1h-1zM564 302h1v2h-1zM565 304h1v1h-1zM566 305h1v1h-1zM567 306h1v1h-1zM568 307h1v1h-1zM569 307h1v1h-1zM570 308h1v1h-1zM571 309h1v1h-1zM572 309h1v1h-1zM573 309h1v1h-1zM574 310h1v1h-1zM575 310h1v1h-1zM576 310h1v1h-1zM577 310h1v1h-1zM578 310h1v1h-1zM579 310h1v1h-1zM580 309h1v1h-1zM581 309h1v1h-1zM582 309h1v1h-1zM583 309h1v1h-1zM584 309h1v1h-1zM585 308h1v1h-1zM586 308h1v1h-1zM587 308h1v1h-1zM588 308h1v1h-1zM589 307h1v1h-1zM590 307h1v1h-1zM591 307h1v1h-1zM592 306h1v1h-1zM593 306h1v1h-1zM594 306h1v1h-1zM595 305h1v1h-1zM596 305h1v1h-1zM597 304h1v1h-1zM598 304h1v1h-1zM599 303h1v1h-1zM600 303h1v1h-1zM601 302h1v1h-1zM602 302h1v1h-1zM603 302h1v1h-1zM604 302h1v1h-1zM605 302h1v1h-1zM606 302h1v1h-1zM607 302h1v1h-1zM608 302h1v1h-1zM609 303h1v1h-1zM610 304h1v1h-1zM611 305h1v1h-1zM612 306h1v1h-1zM613 307h1v1h-1zM614 308h1v1h-1zM615 308h1v1h-1zM616 309h1v1h-1zM617 310h1v1h-1zM618 310h1v1h-1zM619 311h1v1h-1zM620 312h1v1h-1zM621 312h1v1h-1zM622 312h1v1h-1zM623 312h1v1h-1zM624 312h1v1h-1zM625 312h1v1h-1zM626 312h1v1h-1zM627 313h1v1h-1zM628 313h1v1h-1zM629 313h1v1h-1zM630 314h1v1h-1zM631 314h1v1h-1zM632 315h1v1h-1zM633 315h1v1h-1zM634 315h1v1h-1zM635 315h1v1h-1zM636 314h1v1h-1zM637 314h1v1h-1zM638 313h1v1h-1zM639 313h1v1h-1zM640 313h1v1h-1zM641 312h1v1h-1zM642 312h1v1h-1zM643 311h1v1h-1zM644 311h1v1h-1zM645 311h1v1h-1zM646 310h1v1h-1zM647 310h1v1h-1zM648 309h1v1h-1zM649 309h1v1h-1zM650 309h1v1h-1zM651 308h1v1h-1zM652 308h1v1h-1zM653 308h1v1h-1zM654 308h1v1h-1zM655 308h1v1h-1zM656 308h1v1h-1zM657 308h1v1h-1zM658 308h1v1h-1zM659 308h1v1h-1zM660 308h1v1h-1zM661 308h1v1h-1zM662 308h1v1h-1zM663 308h1v1h-1zM664 308h1v1h-1zM665 309h1v1h-1zM666 309h1v1h-1zM667 309h1v1h-1zM668 309h1v1h-1zM669 309h1v1h-1zM670 308h1v1h-1zM671 308h1v1h-1zM672 308h1v1h-1zM673 308h1v1h-1zM674 308h1v1h-1zM675 308h1v1h-1zM676 308h1v1h-1zM677 309h1v1h-1zM678 309h1v1h-1zM679 309h1v1h-1zM680 310h1v1h-1zM681 310h1v1h-1zM682 310h1v1h-1zM683 310h1v1h-1zM684 311h1v1h-1zM685 311h1v1h-1zM686 311h1v1h-1zM687 311h1v1h-1zM688 311h1v1h-1zM689 311h1v1h-1zM690 311h1v1h-1zM691 310h1v1h-1zM692 310h1v1h-1zM693 309h1v1h-1zM694 308h1v1h-1zM695 307h1v1h-1zM696 306h1v1h-1zM697 305h1v1h-1zM698 304h1v1h-1zM699 303h1v1h-1zM700 302h1v1h-1zM701 301h1v1h-1zM702 300h1v1h-1zM703 299h1v1h-1zM704 298h1v1h-1zM705 297h1v1h-1zM706 296h1v1h-1zM707 295h1v1h-1zM708 294h1v1h-1zM709 293h1v1h-1zM710 292h1v1h-1zM711 292h1v1h-1zM712 291h1v1h-1zM713 291h1v1h-1zM714 290h1v1h-1zM715 290h1v1h-1zM716 290h1v1h-1zM717 290h1v1h-1zM718 290h1v1h-1zM719 290h1v1h-1zM720 289h1v1h-1zM721 289h1v1h-1zM722 289h1v1h-1zM723 288h1v1h-1zM724 288h1v1h-1zM725 288h1v1h-1zM726 287h1v1h-1zM727 287h1v1h-1zM728 287h1v1h-1zM729 287h1v1h-1zM730 286h1v1h-1zM731 286h1v1h-1zM732 285h1v1h-1zM733 285h1v1h-1zM734 284h1v1h-1zM735 283h1v1h-1zM736 282h1v1h-1zM737 281h1v1h-1zM738 280h1v1h-1zM739 279h1v1h-1zM740 278h1v1h-1zM741 277h1v1h-1zM742 275h1v2h-1zM743 274h1v1h-1zM744 273h1v1h-1zM745 272h1v1h-1zM746 271h1v1h-1zM747 270h1v1h-1zM748 269h1v1h-1zM749 268h1v1h-1zM750 267h1v1h-1zM751 266h1v1h-1zM752 265h1v1h-1zM753 265h1v1h-1zM754 264h1v1h-1zM755 263h1v1h-1zM756 262h1v1h-1zM757 262h1v1h-1zM758 261h1v1h-1zM759 261h1v1h-1zM760 260h1v1h-1zM761 260h1v1h-1zM762 259h1v1h-1zM763 259h1v1h-1zM764 258h1v1h-1zM765 257h1v1h-1zM766 256h1v1h-1zM767 256h1v1h-1zM768 255h1v1h-1zM769 254h1v1h-1zM770 253h1v1h-1zM771 252h1v1h-1zM772 251h1v1h-1zM773 250h1v1h-1zM774 249h1v1h-1zM775 249h1v1h-1zM776 248h1v1h-1zM777 247h1v1h-1zM778 246h1v1h-1zM779 246h1v1h-1zM780 245h1v1h-1zM781 244h1v1h-1zM782 243h1v1h-1zM783 242h1v1h-1zM784 241h1v2h-1zM785 240h1v1h-1zM786 239h1v1h-1zM787 238h1v1h-1zM788 237h1v1h-1zM789 235h1v2h-1zM790 233h1v2h-1zM791 231h1v2h-1zM792 230h1v1h-1zM793 228h1v2h-1zM794 226h1v2h-1zM795 224h1v2h-1zM796 222h1v2h-1zM797 220h1v2h-1zM798 218h1v2h-1zM799 216h1v2h-1zM800 215h1v1h-1zM801 213h1v2h-1zM802 212h1v1h-1zM803 210h1v2h-1zM804 209h1v1h-1zM805 207h1v2h-1zM806 206h1v1h-1zM807 204h1v2h-1zM808 203h1v1h-1zM809 202h1v1h-1zM810 201h1v1h-1zM811 200h1v1h-1zM812 199h1v1h-1zM813 198h1v1h-1zM814 197h1v1h-1zM815 196h1v1h-1zM816 196h1v1h-1zM817 196h1v1h-1zM818 195h1v1h-1zM819 195h1v1h-1zM820 195h1v1h-1zM821 195h1v1h-1zM822 194h1v1h-1zM823 194h1v1h-1zM824 194h1v1h-1zM825 194h1v1h-1zM826 193h1v1h-1zM827 192h1v1h-1zM828 192h1v1h-1zM829 191h1v1h-1zM830 190h1v1h-1zM831 190h1v1h-1zM832 189h1v1h-1zM833 189h1v1h-1zM834 188h1v1h-1zM835 187h1v1h-1zM836 186h1v1h-1zM837 185h1v1h-1zM838 184h1v1h-1zM839 183h1v1h-1zM840 182h1v1h-1zM841 182h1v1h-1zM842 181h1v1h-1zM843 180h1v1h-1zM844 180h1v1h-1zM845 179h1v1h-1zM846 178h1v1h-1zM847 178h1v1h-1zM848 177h1v1h-1zM849 177h1v1h-1zM850 177h1v1h-1zM851 176h1v1h-1zM852 176h1v1h-1zM853 176h1v1h-1zM854 175h1v1h-1zM855 175h1v1h-1zM856 175h1v1h-1zM857 175h1v1h-1zM858 175h1v1h-1zM859 175h1v1h-1zM860 175h1v1h-1zM861 175h1v1h-1zM862 175h1v1h-1zM863 175h1v1h-1zM864 176h1v1h-1zM865 176h1v1h-1zM866 176h1v1h-1zM867 177h1v1h-1zM868 177h1v1h-1zM869 177h1v1h-1zM870 178h1v1h-1zM871 179h1v1h-1zM872 179h1v1h-1zM873 180h1v1h-1zM874 181h1v1h-1zM875 181h1v1h-1zM876 181h1v1h-1zM877 181h1v1h-1zM878 181h1v1h-1zM879 182h1v1h-1zM880 181h1v1h-1zM881 181h1v1h-1zM882 180h1v1h-1zM883 180h1v1h-1zM884 179h1v1h-1zM885 178h1v1h-1zM886 177h1v1h-1zM887 175h1v2h-1zM888 174h1v1h-1zM889 172h1v2h-1zM890 171h1v1h-1zM891 169h1v2h-1zM892 167h1v2h-1zM893 165h1v2h-1zM894 164h1v1h-1zM895 163h1v1h-1zM896 162h1v1h-1zM897 160h1v2h-1zM898 159h1v1h-1zM899 158h1v1h-1zM900 156h1v2h-1zM901 155h1v1h-1zM902 153h1v2h-1zM903 152h1v1h-1zM904 151h1v1h-1zM905 150h1v1h-1zM906 149h1v1h-1zM907 148h1v1h-1zM908 147h1v1h-1zM909 146h1v1h-1zM910 145h1v1h-1zM911 145h1v1h-1zM912 144h1v1h-1zM913 144h1v1h-1zM914 143h1v1h-1zM915 143h1v1h-1zM916 142h1v1h-1zM917 141h1v1h-1zM918 141h1v1h-1zM919 140h1v1h-1zM920 140h1v1h-1zM921 140h1v1h-1zM922 140h1v1h-1zM923 140h1v1h-1zM924 140h1v1h-1zM925 140h1v1h-1zM926 139h1v1h-1z" fill="#ffff00"/>
<path d="M3 423h1v6h-1zM4 416h1v7h-1zM5 410h1v6h-1zM6 403h1v7h-1zM7 397h1v6h-1zM8 390h1v7h-1zM9 384h1v6h-1zM10 377h1v7h-1zM11 371h1v6h-1zM12 365h1v6h-1zM13 359h1v6h-1zM14 354h1v5h-1zM15 348h1v6h-1zM16 341h1v7h-1zM17 334h1v7h-1zM18 329h1v5h-1zM19 324h1v5h-1zM20 319h1v5h-1zM21 313h1v6h-1zM22 308h1v5h-1zM23 302h1v6h-1zM24 297h1v5h-1zM25 291h1v6h-1zM26 285h1v6h-1zM27 279h1v6h-1zM28 274h1v5h-1zM29 269h1v5h-1zM30 266h1v3h-1zM31 264h1v2h-1zM32 261h1v3h-1zM33 259h1v2h-1zM34 256h1v3h-1zM35 255h1v1h-1zM36 254h1v1h-1zM37 253h1v1h-1zM38 252h1v1h-1zM39 252h1v1h-1zM40 252h1v1h-1zM41 253h1v1h-1zM42 253h1v1h-1zM43 253h1v1h-1zM44 254h1v1h-1zM45 254h1v1h-1zM46 254h1v1h-1zM47 254h1v1h-1zM48 255h1v1h-1zM49 255h1v1h-1zM50 255h1v1h-1zM51 256h1v1h-1zM52 257h1v1h-1zM53 258h1v1h-1zM54 259h1v1h-1zM55 260h1v1h-1zM56 261h1v1h-1zM57 262h1v1h-1zM58 263h1v1h-1zM59 264h1v1h-1zM60 264h1v1h-1zM61 265h1v1h-1zM62 266h1v1h-1zM63 267h1v1h-1zM64 268h1v1h-1zM65 269h1v1h-1zM66 270h1v2h-1zM67 272h1v1h-1zM68 272h1v1h-1zM69 272h1v1h-1zM70 273h1v1h-1zM71 273h1v1h-1zM72 274h1v1h-1zM73 274h1v1h-1zM74 275h1v1h-1zM75 275h1v1h-1zM76 276h1v1h-1zM77 277h1v1h-1zM78 276h1v1h-1zM79 276h1v1h-1zM80 276h1v1h-1zM81 276h1v1h-1zM82 276h1v1h-1zM83 275h1v1h-1zM84 274h1v1h-1zM85 273h1v1h-1zM86 272h1v1h-1zM87 272h1v1h-1zM88 271h1v1h-1zM89 270h1v1h-1zM90 270h1v1h-1zM91 269h1v1h-1zM92 268h1v1h-1zM93 268h1v1h-1zM94 267h1v1h-1zM95 266h1v1h-1zM96 265h1v1h-1zM97 264h1v1h-1zM98 263h1v1h-1zM99 262h1v1h-1zM100 260h1v2h-1zM101 259h1v1h-1zM102 257h1v2h-1zM103 256h1v1h-1zM104 254h1v2h-1zM105 251h1v3h-1zM106 249h1v2h-1zM107 246h1v3h-1zM108 244h1v2h-1zM109 241h1v3h-1zM110 239h1v2h-1zM111 236h1v3h-1zM112 234h1v2h-1zM113 231h1v3h-1zM114 229h1v2h-1zM115 227h1v2h-1zM116 225h1v2h-1zM117 222h1v3h-1zM118 220h1v2h-1zM119 218h1v2h-1zM120 216h1v2h-1zM121 214h1v2h-1zM122 213h1v1h-1zM123 211h1v2h-1zM124 209h1v2h-1zM125 208h1v1h-1zM126 207h1v1h-1zM127 205h1v2h-1zM128 204h1v1h-1zM129 204h1v1h-1zM130 203h1v1h-1zM131 203h1v1h-1zM132 203h1v1h-1zM133 202h1v1h-1zM134 202h1v1h-1zM135 202h1v1h-1zM136 201h1v1h-1zM137 201h1v1h-1zM138 201h1v1h-1zM139 201h1v1h-1zM140 201h1v1h-1zM141 201h1v1h-1zM142 201h1v1h-1zM143 201h1v1h-1zM144 202h1v1h-1zM145 203h1v1h-1zM146 204h1v1h-1zM147 204h1v1h-1zM148 205h1v1h-1zM149 206h1v1h-1zM150 207h1v1h-1zM151 207h1v1h-1zM152 208h1v1h-1zM153 208h1v1h-1zM154 209h1v1h-1zM155 209h1v1h-1zM156 209h1v1h-1zM157 209h1v1h-1zM158 209h1v1h-1zM159 209h1v1h-1zM160 210h1v1h-1zM161 211h1v1h-1zM162 211h1v1h-1zM163 212h1v1h-1zM164 213h1v1h-1zM165 213h1v1h-1zM166 213h1v1h-1zM167 212h1v1h-1zM168 212h1v1h-1zM169 212h1v1h-1zM170 212h1v1h-1zM171 212h1v1h-1zM172 211h1v2h-1zM173 213h1v2h-1zM174 215h1v1h-1zM175 216h1v2h-1zM176 218h1v2h-1zM177 220h1v2h-1zM178 222h1v3h-1zM179 225h1v2h-1zM180 227h1v2h-1zM181 229h1v2h-1zM182 231h1v2h-1zM183 233h1v2h-1zM184 235h1v2h-1zM185 237h1v1h-1zM186 238h1v2h-1zM187 240h1v2h-1zM188 242h1v2h-1zM189 244h1v2h-1zM190 246h1v3h-1zM191 249h1v2h-1zM192 251h1v2h-1zM193 253h1v3h-1zM194 256h1v2h-1zM195 258h1v2h-1zM196 260h1v3h-1zM197 263h1v3h-1zM198 266h1v2h-1zM199 268h1v3h-1zM200 271h1v3h-1zM201 274h1v2h-1zM202 276h1v3h-1zM203 279h1v3h-1zM204 282h1v3h-1zM205 285h1v2h-1zM206 287h1v3h-1zM207 290h1v4h-1zM208 294h1v3h-1zM209 297h1v3h-1zM210 300h1v2h-1zM211 302h1v2h-1zM212 304h1v1h-1zM213 305h1v1h-1zM214 304h1v1h-1zM215 303h1v1h-1zM216 303h1v1h-1zM217 302h1v1h-1zM218 301h1v1h-1zM219 301h1v1h-1zM220 300h1v1h-1zM221 299h1v1h-1zM222 299h1v1h-1zM223 299h1v1h-1zM224 299h1v1h-1zM225 299h1v1h-1zM226 299h1v1h-1zM227 299h1v1h-1zM228 299h1v1h-1zM229 299h1v1h-1zM230 299h1v1h-1zM231 299h1v1h-1zM232 300h1v1h-1zM233 300h1v1h-1zM234 300h1v1h-1zM235 299h1v1h-1zM236 298h1v1h-1zM237 298h1v1h-1zM238 297h1v1h-1zM239 296h1v1h-1zM240 295h1v1h-1zM241 294h1v1h-1zM242 294h1v1h-1zM243 293h1v1h-1zM244 292h1v1h-1zM245 291h1v1h-1zM246 290h1v1h-1zM247 289h1v1h-1zM248 288h1v1h-1zM249 287h1v1h-1zM250 286h1v1h-1zM251 285h1v1h-1zM252 284h1v1h-1zM253 283h1v1h-1zM254 281h1v2h-1zM255 280h1v1h-1zM256 279h1v1h-1zM257 279h1v1h-1zM258 279h1v1h-1zM259 279h1v1h-1zM260 279h1v1h-1zM261 278h1v1h-1zM262 278h1v1h-1zM263 278h1v1h-1zM264 277h1v1h-1zM265 277h1v1h-1zM266 276h1v1h-1zM267 275h1v1h-1zM268 273h1v2h-1zM269 271h1v2h-1zM270 270h1v1h-1zM271 268h1v2h-1zM272 267h1v1h-1zM273 265h1v2h-1zM274 264h1v1h-1zM275 263h1v1h-1zM276 261h1v2h-1zM277 260h1v1h-1zM278 259h1v1h-1zM279 257h1v2h-1zM280 256h1v1h-1zM281 255h1v1h-1zM282 255h1v1h-1zM283 254h1v1h-1zM284 253h1v1h-1zM285 253h1v1h-1zM286 253h1v1h-1zM287 254h1v1h-1zM288 254h1v1h-1zM289 254h1v1h-1zM290 255h1v1h-1zM291 255h1v1h-1zM292 256h1v1h-1zM293 256h1v1h-1zM294 257h1v1h-1zM295 257h1v1h-1zM296 258h1v1h-1zM297 258h1v1h-1zM298 259h1v1h-1zM299 259h1v1h-1zM300 260h1v1h-1zM301 260h1v1h-1zM302 259h1v1h-1zM303 258h1v1h-1zM304 257h1v1h-1zM305 256h1v1h-1zM306 256h1v1h-1zM307 255h1v1h-1zM308 255h1v1h-1zM309 254h1v1h-1zM310 254h1v1h-1zM311 253h1v1h-1zM312 253h1v1h-1zM313 254h1v1h-1zM314 255h1v1h-1zM315 256h1v1h-1zM316 257h1v1h-1zM317 258h1v1h-1zM318 259h1v1h-1zM319 260h1v1h-1zM320 261h1v2h-1zM321 263h1v1h-1zM322 264h1v1h-1zM323 265h1v2h-1zM324 267h1v1h-1zM325 268h1v1h-1zM326 269h1v1h-1zM327 270h1v1h-1zM328 271h1v1h-1zM329 272h1v1h-1zM330 273h1v1h-1zM331 274h1v1h-1zM332 275h1v1h-1zM333 276h1v1h-1zM334 277h1v1h-1zM335 278h1v1h-1zM336 279h1v1h-1zM337 280h1v1h-1zM338 281h1v1h-1zM339 282h1v1h-1zM340 283h1v1h-1zM341 284h1v2h-1zM342 286h1v1h-1zM343 287h1v2h-1zM344 289h1v1h-1zM345 290h1v2h-1zM346 292h1v3h-1zM347 295h1v3h-1zM348 298h1v3h-1zM349 301h1v4h-1zM350 305h1v3h-1zM351 308h1v4h-1zM352 312h1v4h-1zM353 316h1v3h-1zM354 319h1v4h-1zM355 323h1v4h-1zM356 327h1v3h-1zM357 330h1v4h-1zM358 334h1v3h-1zM359 337h1v3h-1zM360 340h1v3h-1zM361 343h1v3h-1zM362 346h1v3h-1zM363 349h1v3h-1zM364 352h1v3h-1zM365 355h1v2h-1zM366 357h1v3h-1zM367 360h1v3h-1zM368 363h1v3h-1zM369 366h1v2h-1zM370 368h1v3h-1zM371 371h1v3h-1zM372 374h1v2h-1zM373 376h1v3h-1zM374 379h1v3h-1zM375 382h1v2h-1zM376 384h1v3h-1zM377 387h1v3h-1zM378 390h1v2h-1zM379 392h1v3h-1zM380 395h1v3h-1zM381 398h1v3h-1zM382 401h1v3h-1zM383 404h1v3h-1zM384 407h1v3h-1zM385 410h1v2h-1zM386 412h1v2h-1zM387 414h1v2h-1zM388 416h1v2h-1zM389 418h1v2h-1zM390 420h1v1h-1zM391 421h1v2h-1zM392 423h1v1h-1zM393 424h1v2h-1zM394 426h1v1h-1zM395 427h1v1h-1zM396 428h1v1h-1zM397 429h1v1h-1zM398 430h1v1h-1zM399 431h1v1h-1zM400 432h1v1h-1zM401 432h1v1h-1zM402 433h1v1h-1zM403 433h1v1h-1zM404 434h1v1h-1zM405 434h1v1h-1zM406 434h1v1h-1zM407 434h1v1h-1zM408 433h1v1h-1zM409 433h1v1h-1zM410 433h1v1h-1zM411 432h1v1h-1zM412 432h1v1h-1zM413 432h1v1h-1zM414 431h1v1h-1zM415 431h1v1h-1zM416 430h1v1h-1zM417 430h1v1h-1zM418 429h1v1h-1zM419 429h1v1h-1zM420 428h1v1h-1zM421 428h1v1h-1zM422 427h1v2h-1zM423 426h1v1h-1zM424 425h1v1h-1zM425 424h1v1h-1zM426 423h1v1h-1zM427 420h1v3h-1zM428 417h1v3h-1zM429 414h1v3h-1zM430 411h1v3h-1zM431 408h1v3h-1zM432 404h1v4h-1zM433 401h1v3h-1zM434 398h1v3h-1zM435 394h1v4h-1zM436 391h1v3h-1zM437 388h1v3h-1zM438 383h1v5h-1zM439 379h1v4h-1zM440 374h1v5h-1zM441 369h1v5h-1zM442 364h1v5h-1zM443 359h1v5h-1zM444 354h1v5h-1zM445 349h1v5h-1zM446 345h1v4h-1zM447 340h1v5h-1zM448 336h1v4h-1zM449 331h1v5h-1zM450 327h1v4h-1zM451 322h1v5h-1zM452 317h1v5h-1zM453 312h1v5h-1zM454 307h1v5h-1zM455 302h1v5h-1zM456 297h1v5h-1zM457 291h1v6h-1zM458 286h1v5h-1zM459 281h1v5h-1zM460 277h1v4h-1zM461 272h1v5h-1zM462 268h1v4h-1zM463 264h1v4h-1zM464 261h1v3h-1zM465 257h1v4h-1zM466 254h1v3h-1zM467 252h1v2h-1zM468 250h1v2h-1zM469 248h1v2h-1zM470 245h1v3h-1zM471 243h1v2h-1zM472 241h1v2h-1zM473 240h1v1h-1zM474 238h1v2h-1zM475 236h1v2h-1zM476 235h1v1h-1zM477 233h1v2h-1zM478 232h1v1h-1zM479 230h1v2h-1zM480 229h1v1h-1zM481 227h1v2h-1zM482 226h1v1h-1zM483 225h1v1h-1zM484 224h1v1h-1zM485 223h1v1h-1zM486 222h1v1h-1zM487 223h1v1h-1zM488 224h1v2h-1zM489 226h1v2h-1zM490 228h1v2h-1zM491 230h1v2h-1zM492 232h1v2h-1zM493 234h1v2h-1zM494 236h1v2h-1zM495 238h1v2h-1zM496 240h1v2h-1zM497 242h1v2h-1zM498 244h1v3h-1zM499 247h1v3h-1zM500 250h1v3h-1zM501 253h1v3h-1zM502 256h1v4h-1zM503 260h1v3h-1zM504 263h1v3h-1zM505 266h1v2h-1zM506 268h1v3h-1zM507 271h1v3h-1zM508 274h1v3h-1zM509 277h1v2h-1zM510 279h1v2h-1zM511 281h1v2h-1zM512 283h1v2h-1zM513 285h1v3h-1zM514 288h1v2h-1zM515 290h1v2h-1zM516 292h1v2h-1zM517 294h1v3h-1zM518 297h1v2h-1zM519 299h1v2h-1zM520 301h1v3h-1zM521 304h1v2h-1zM522 306h1v3h-1zM523 309h1v2h-1zM524 311h1v2h-1zM525 313h1v1h-1zM526 314h1v1h-1zM527 315h1v1h-1zM528 316h1v1h-1zM529 317h1v1h-1zM530 316h1v1h-1zM531 316h1v1h-1zM532 316h1v1h-1zM533 315h1v1h-1zM534 315h1v1h-1zM535 314h1v1h-1zM536 313h1v1h-1zM537 313h1v1h-1zM538 312h1v1h-1zM539 310h1v2h-1zM540 308h1v2h-1zM541 307h1v1h-1zM542 305h1v2h-1zM543 303h1v2h-1zM544 302h1v1h-1zM545 301h1v1h-1zM546 300h1v1h-1zM547 298h1v2h-1zM548 297h1v1h-1zM549 296h1v1h-1zM550 295h1v1h-1zM551 293h1v2h-1zM552 292h1v1h-1zM553 291h1v1h-1zM554 290h1v1h-1zM555 290h1v1h-1zM556 290h1v1h-1zM557 289h1v1h-1zM558 289h1v1h-1zM559 289h1v1h-1zM560 289h1v1h-1zM561 290h1v1h-1zM562 290h1v1h-1zM563 290h1v1h-1zM564 290h1v1h-1zM565 291h1v1h-1zM566 292h1v1h-1zM567 293h1v1h-1zM568 294h1v2h-1zM569 296h1v1h-1zM570 297h1v2h-1zM571 299h1v1h-1zM572 300h1v2h-1zM573 302h1v1h-1zM574 303h1v1h-1zM575 304h1v1h-1zM576 305h1v1h-1zM577 306h1v1h-1zM578 307h1v1h-1zM579 308h1v1h-1zM580 309h1v2h-1zM581 311h1v1h-1zM582 312h1v1h-1zM583 313h1v2h-1zM584 315h1v1h-1zM585 316h1v1h-1zM586 317h1v1h-1zM587 318h1v1h-1zM588 319h1v1h-1zM589 320h1v1h-1zM590 321h1v1h-1zM591 321h1v1h-1zM592 322h1v1h-1zM593 322h1v1h-1zM594 322h1v1h-1zM595 321h1v1h-1zM596 320h1v1h-1zM597 320h1v1h-1zM598 319h1v1h-1zM599 319h1v1h-1zM600 318h1v1h-1zM601 317h1v1h-1zM602 316h1v1h-1zM603 315h1v1h-1zM604 314h1v1h-1zM605 313h1v1h-1zM606 312h1v1h-1zM607 311h1v1h-1zM608 311h1v1h-1zM609 310h1v1h-1zM610 311h1v1h-1zM611 311h1v1h-1zM612 312h1v1h-1zM613 313h1v1h-1zM614 313h1v1h-1zM615 313h1v1h-1zM616 313h1v1h-1zM617 313h1v1h-1zM618 312h1v1h-1zM619 312h1v1h-1zM620 311h1v1h-1zM621 310h1v1h-1zM622 310h1v1h-1zM623 309h1v1h-1zM624 308h1v1h-1zM625 307h1v1h-1zM626 307h1v1h-1zM627 307h1v1h-1zM628 307h1v1h-1zM629 307h1v1h-1zM630 307h1v1h-1zM631 307h1v1h-1zM632 307h1v1h-1zM633 307h1v1h-1zM634 307h1v1h-1zM635 307h1v1h-1zM636 307h1v1h-1zM637 307h1v1h-1zM638 307h1v1h-1zM639 307h1v1h-1zM640 307h1v1h-1zM641 308h1v1h-1zM642 308h1v1h-1zM643 309h1v1h-1zM644 310h1v1h-1zM645 310h1v1h-1zM646 310h1v1h-1zM647 310h1v1h-1zM648 310h1v1h-1zM649 310h1v1h-1zM650 310h1v1h-1zM651 310h1v1h-1zM652 309h1v1h-1zM653 307h1v2h-1zM654 306h1v1h-1zM655 305h1v1h-1zM656 304h1v1h-1zM657 303h1v1h-1zM658 303h1v1h-1zM659 302h1v1h-1zM660 302h1v1h-1zM661 303h1v1h-1zM662 303h1v1h-1zM663 304h1v1h-1zM664 305h1v1h-1zM665 306h1v1h-1zM666 306h1v1h-1zM667 307h1v1h-1zM668 308h1v1h-1zM669 309h1v1h-1zM670 309h1v1h-1zM671 309h1v1h-1zM672 308h1v1h-1zM673 308h1v1h-1zM674 308h1v1h-1zM675 308h1v1h-1zM676 308h1v1h-1zM677 308h1v1h-1zM678 309h1v1h-1zM679 309h1v1h-1zM680 309h1v1h-1zM681 310h1v1h-1zM682 310h1v1h-1zM683 311h1v1h-1zM684 311h1v1h-1zM685 311h1v1h-1zM686 312h1v1h-1zM687 312h1v1h-1zM688 312h1v1h-1zM689 313h1v1h-1zM690 312h1v1h-1zM691 312h1v1h-1zM692 311h1v1h-1zM693 310h1v1h-1zM694 309h1v1h-1zM695 307h1v2h-1zM696 305h1v2h-1zM697 304h1v1h-1zM698 302h1v2h-1zM699 300h1v2h-1zM700 298h1v2h-1zM701 296h1v2h-1zM702 294h1v2h-1zM703 292h1v2h-1zM704 290h1v2h-1zM705 288h1v2h-1zM706 285h1v3h-1zM707 283h1v2h-1zM708 281h1v2h-1zM709 279h1v2h-1zM710 278h1v1h-1zM711 277h1v1h-1zM712 276h1v1h-1zM713 274h1v2h-1zM714 273h1v1h-1zM715 273h1v1h-1zM716 272h1v1h-1zM717 272h1v1h-1zM718 272h1v1h-1zM719 272h1v1h-1zM720 271h1v1h-1zM721 271h1v1h-1zM722 271h1v1h-1zM723 271h1v1h-1zM724 270h1v1h-1zM725 270h1v1h-1zM726 269h1v1h-1zM727 268h1v1h-1zM728 268h1v1h-1zM729 267h1v1h-1zM730 266h1v1h-1zM731 264h1v2h-1zM732 263h1v1h-1zM733 262h1v1h-1zM734 261h1v1h-1zM735 260h1v1h-1zM736 259h1v1h-1zM737 259h1v1h-1zM738 258h1v1h-1zM739 257h1v1h-1zM740 257h1v1h-1zM741 257h1v1h-1zM742 256h1v1h-1zM743 256h1v1h-1zM744 256h1v1h-1zM745 256h1v1h-1zM746 256h1v1h-1zM747 256h1v1h-1zM748 256h1v1h-1zM749 256h1v1h-1zM750 256h1v1h-1zM751 256h1v1h-1zM752 256h1v1h-1zM753 256h1v1h-1zM754 256h1v1h-1zM755 256h1v1h-1zM756 256h1v1h-1zM757 255h1v1h-1zM758 254h1v1h-1zM759 254h1v1h-1zM760 253h1v1h-1zM761 252h1v1h-1zM762 252h1v1h-1zM763 251h1v1h-1zM764 251h1v1h-1zM765 250h1v1h-1zM766 250h1v1h-1zM767 249h1v1h-1zM768 248h1v1h-1zM769 247h1v1h-1zM770 246h1v1h-1zM771 245h1v1h-1zM772 243h1v2h-1zM773 242h1v1h-1zM774 240h1v2h-1zM775 239h1v1h-1zM776 237h1v2h-1zM777 235h1v2h-1zM778 233h1v2h-1zM779 232h1v1h-1zM780 230h1v2h-1zM781 228h1v2h-1zM782 227h1v1h-1zM783 226h1v1h-1zM784 224h1v2h-1zM785 221h1v3h-1zM786 218h1v3h-1zM787 215h1v3h-1zM788 212h1v3h-1zM789 209h1v3h-1zM790 206h1v3h-1zM791 203h1v3h-1zM792 200h1v3h-1zM793 197h1v3h-1zM794 194h1v3h-1zM795 191h1v3h-1zM796 188h1v3h-1zM797 186h1v2h-1zM798 183h1v3h-1zM799 180h1v3h-1zM800 178h1v2h-1zM801 176h1v2h-1zM802 174h1v2h-1zM803 171h1v3h-1zM804 169h1v2h-1zM805 167h1v2h-1zM806 165h1v2h-1zM807 163h1v2h-1zM808 161h1v2h-1zM809 160h1v1h-1zM810 159h1v1h-1zM811 158h1v1h-1zM812 157h1v1h-1zM813 156h1v1h-1zM814 156h1v1h-1zM815 156h1v1h-1zM816 157h1v1h-1zM817 157h1v1h-1zM818 158h1v1h-1zM819 159h1v1h-1zM820 160h1v2h-1zM821 162h1v1h-1zM822 163h1v1h-1zM823 164h1v1h-1zM824 165h1v1h-1zM825 165h1v1h-1zM826 166h1v1h-1zM827 167h1v2h-1zM828 169h1v1h-1zM829 170h1v2h-1zM830 172h1v2h-1zM831 174h1v2h-1zM832 176h1v2h-1zM833 178h1v2h-1zM834 180h1v2h-1zM835 182h1v1h-1zM836 183h1v2h-1zM837 185h1v1h-1zM838 186h1v2h-1zM839 188h1v1h-1zM840 189h1v1h-1zM841 190h1v1h-1zM842 191h1v2h-1zM843 193h1v1h-1zM844 194h1v1h-1zM845 195h1v1h-1zM846 195h1v1h-1zM847 196h1v1h-1zM848 197h1v1h-1zM849 198h1v1h-1zM850 198h1v1h-1zM851 197h1v1h-1zM852 197h1v1h-1zM853 197h1v1h-1zM854 196h1v1h-1zM855 195h1v1h-1zM856 195h1v1h-1zM857 194h1v1h-1zM858 194h1v1h-1zM859 193h1v1h-1zM860 192h1v1h-1zM861 192h1v1h-1zM862 191h1v1h-1zM863 190h1v1h-1zM864 189h1v1h-1zM865 189h1v1h-1zM866 188h1v1h-1zM867 187h1v1h-1zM868 186h1v1h-1zM869 186h1v1h-1zM870 185h1v1h-1zM871 184h1v1h-1zM872 183h1v1h-1zM873 182h1v1h-1zM874 181h1v2h-1zM875 180h1v1h-1zM876 179h1v1h-1zM877 178h1v1h-1zM878 177h1v1h-1zM879 175h1v2h-1zM880 173h1v2h-1zM881 171h1v2h-1zM882 170h1v1h-1zM883 168h1v2h-1zM884 165h1v3h-1zM885 161h1v4h-1zM886 158h1v3h-1zM887 155h1v3h-1zM888 151h1v4h-1zM889 147h1v4h-1zM890 144h1v3h-1zM891 141h1v3h-1zM892 138h1v3h-1zM893 135h1v3h-1zM894 133h1v2h-1zM895 130h1v3h-1zM896 128h1v2h-1zM897 126h1v2h-1zM898 124h1v2h-1zM899 123h1v1h-1zM900 121h1v2h-1zM901 119h1v2h-1zM902 118h1v1h-1zM903 117h1v1h-1zM904 116h1v1h-1zM905 114h1v2h-1zM906 113h1v1h-1zM907 112h1v1h-1zM908 112h1v1h-1zM909 111h1v1h-1zM910 110h1v1h-1zM911 109h1v1h-1zM912 109h1v1h-1zM913 109h1v1h-1zM914 108h1v1h-1zM915 108h1v1h-1zM916 108h1v1h-1zM917 109h1v1h-1zM918 110h1v1h-1zM919 110h1v2h-1zM920 112h1v1h-1zM921 113h1v1h-1zM922 114h1v2h-1zM923 116h1v2h-1zM924 118h1v2h-1zM925 120h1v2h-1zM926 122h1v1h-1z" fill="#0000d0"/>
<path d="M3 380h1v10h-1zM4 371h1v9h-1zM5 362h1v9h-1zM6 352h1v10h-1zM7 342h1v10h-1zM8 332h1v10h-1zM9 323h1v9h-1zM10 314h1v9h-1zM11 304h1v10h-1zM12 296h1v8h-1zM13 290h1v6h-1zM14 284h1v6h-1zM15 279h1v5h-1zM16 274h1v5h-1zM17 269h1v5h-1zM18 265h1v4h-1zM19 260h1v5h-1zM20 259h1v1h-1zM21 257h1v2h-1zM22 256h1v1h-1zM23 254h1v2h-1zM24 253h1v1h-1zM25 251h1v2h-1zM26 250h1v1h-1zM27 249h1v1h-1zM28 248h1v1h-1zM29 246h1v2h-1zM30 245h1v1h-1zM31 245h1v1h-1zM32 244h1v1h-1zM33 243h1v1h-1zM34 244h1v1h-1zM35 245h1v2h-1zM36 247h1v2h-1zM37 249h1v3h-1zM38 252h1v2h-1zM39 254h1v3h-1zM40 257h1v2h-1zM41 259h1v3h-1zM42 262h1v1h-1zM43 262h1v1h-1zM44 262h1v1h-1zM45 263h1v1h-1zM46 263h1v1h-1zM47 264h1v1h-1zM48 264h1v1h-1zM49 263h1v1h-1zM50 263h1v1h-1zM51 263h1v1h-1zM52 263h1v1h-1zM53 263h1v1h-1zM54 264h1v1h-1zM55 265h1v1h-1zM56 266h1v1h-1zM57 267h1v1h-1zM58 268h1v1h-1zM59 269h1v1h-1zM60 270h1v1h-1zM61 271h1v2h-1zM62 273h1v1h-1zM63 274h1v1h-1zM64 275h1v1h-1zM65 276h1v1h-1zM66 277h1v1h-1zM67 278h1v1h-1zM68 277h1v1h-1zM69 277h1v1h-1zM70 276h1v1h-1zM71 276h1v1h-1zM72 275h1v1h-1zM73 275h1v1h-1zM74 275h1v1h-1zM75 276h1v1h-1zM76 276h1v1h-1zM77 276h1v1h-1zM78 276h1v1h-1zM79 275h1v1h-1zM80 275h1v1h-1zM81 274h1v1h-1zM82 274h1v1h-1zM83 273h1v1h-1zM84 272h1v1h-1zM85 271h1v1h-1zM86 270h1v1h-1zM87 268h1v2h-1zM88 267h1v1h-1zM89 265h1v2h-1zM90 264h1v1h-1zM91 263h1v1h-1zM92 261h1v2h-1zM93 260h1v1h-1zM94 258h1v2h-1zM95 257h1v1h-1zM96 255h1v2h-1zM97 253h1v2h-1zM98 251h1v2h-1zM99 249h1v2h-1zM100 247h1v2h-1zM101 245h1v2h-1zM102 243h1v2h-1zM103 240h1v3h-1zM104 238h1v2h-1zM105 235h1v3h-1zM106 233h1v2h-1zM107 230h1v3h-1zM108 227h1v3h-1zM109 224h1v3h-1zM110 222h1v2h-1zM111 219h1v3h-1zM112 217h1v2h-1zM113 214h1v3h-1zM114 212h1v2h-1zM115 210h1v2h-1zM116 208h1v2h-1zM117 205h1v3h-1zM118 203h1v2h-1zM119 201h1v2h-1zM120 199h1v2h-1zM121 197h1v2h-1zM122 194h1v3h-1zM123 192h1v2h-1zM124 190h1v2h-1zM125 189h1v1h-1zM126 188h1v1h-1zM127 187h1v1h-1zM128 186h1v1h-1zM129 187h1v1h-1zM130 188h1v1h-1zM131 189h1v1h-1zM132 189h1v2h-1zM133 191h1v1h-1zM134 192h1v2h-1zM135 194h1v1h-1zM136 195h1v2h-1zM137 197h1v2h-1zM138 199h1v1h-1zM139 200h1v2h-1zM140 202h1v2h-1zM141 204h1v2h-1zM142 206h1v2h-1zM143 208h1v2h-1zM144 210h1v2h-1zM145 212h1v2h-1zM146 214h1v2h-1zM147 216h1v1h-1zM148 217h1v1h-1zM149 218h1v2h-1zM150 220h1v1h-1zM151 221h1v2h-1zM152 223h1v1h-1zM153 223h1v1h-1zM154 222h1v1h-1zM155 222h1v1h-1zM156 222h1v1h-1zM157 222h1v1h-1zM158 221h1v1h-1zM159 220h1v1h-1zM160 219h1v1h-1zM161 218h1v1h-1zM162 216h1v2h-1zM163 214h1v2h-1zM164 212h1v2h-1zM165 211h1v1h-1zM166 209h1v2h-1zM167 208h1v1h-1zM168 207h1v1h-1zM169 206h1v1h-1zM170 205h1v1h-1zM171 204h1v1h-1zM172 203h1v3h-1zM173 206h1v2h-1zM174 208h1v4h-1zM175 212h1v3h-1zM176 215h1v4h-1zM177 219h1v4h-1zM178 223h1v4h-1zM179 227h1v3h-1zM180 230h1v4h-1zM181 234h1v4h-1zM182 238h1v4h-1zM183 242h1v3h-1zM184 245h1v4h-1zM185 249h1v4h-1zM186 253h1v3h-1zM187 256h1v4h-1zM188 260h1v4h-1zM189 264h1v4h-1zM190 268h1v4h-1zM191 272h1v4h-1zM192 276h1v4h-1zM193 280h1v4h-1zM194 284h1v3h-1zM195 287h1v4h-1zM196 291h1v3h-1zM197 294h1v4h-1zM198 298h1v3h-1zM199 301h1v2h-1zM200 303h1v1h-1zM201 304h1v2h-1zM202 306h1v1h-1zM203 307h1v2h-1zM204 309h1v1h-1zM205 309h1v1h-1zM206 309h1v1h-1zM207 309h1v1h-1zM208 309h1v1h-1zM209 308h1v2h-1zM210 307h1v1h-1zM211 305h1v2h-1zM212 304h1v1h-1zM213 302h1v2h-1zM214 301h1v1h-1zM215 300h1v1h-1zM216 298h1v2h-1zM217 297h1v1h-1zM218 296h1v1h-1zM219 295h1v1h-1zM220 294h1v1h-1zM221 294h1v1h-1zM222 293h1v1h-1zM223 292h1v1h-1zM224 291h1v1h-1zM225 292h1v1h-1zM226 292h1v1h-1zM227 292h1v1h-1zM228 292h1v1h-1zM229 293h1v1h-1zM230 293h1v1h-1zM231 294h1v1h-1zM232 295h1v1h-1zM233 296h1v1h-1zM234 296h1v1h-1zM235 295h1v1h-1zM236 294h1v1h-1zM237 293h1v1h-1zM238 292h1v1h-1zM239 291h1v1h-1zM240 291h1v1h-1zM241 290h1v1h-1zM242 290h1v1h-1zM243 289h1v1h-1zM244 289h1v1h-1zM245 287h1v2h-1zM246 286h1v1h-1zM247 285h1v1h-1zM248 284h1v1h-1zM249 282h1v2h-1zM250 281h1v1h-1zM251 279h1v2h-1zM252 278h1v1h-1zM253 276h1v2h-1zM254 275h1v1h-1zM255 274h1v1h-1zM256 272h1v2h-1zM257 271h1v1h-1zM258 270h1v1h-1zM259 269h1v1h-1zM260 268h1v1h-1zM261 267h1v1h-1zM262 267h1v1h-1zM263 266h1v1h-1zM264 265h1v1h-1zM265 264h1v1h-1zM266 262h1v2h-1zM267 261h1v1h-1zM268 260h1v1h-1zM269 259h1v1h-1zM270 259h1v1h-1zM271 258h1v1h-1zM272 258h1v1h-1zM273 257h1v1h-1zM274 257h1v1h-1zM275 256h1v1h-1zM276 255h1v1h-1zM277 254h1v1h-1zM278 253h1v1h-1zM279 252h1v1h-1zM280 251h1v1h-1zM281 250h1v1h-1zM282 249h1v1h-1zM283 250h1v1h-1zM284 251h1v1h-1zM285 252h1v1h-1zM286 253h1v1h-1zM287 253h1v1h-1zM288 254h1v1h-1zM289 254h1v1h-1zM290 254h1v1h-1zM291 255h1v1h-1zM292 255h1v1h-1zM293 255h1v1h-1zM294 256h1v1h-1zM295 256h1v1h-1zM296 256h1v1h-1zM297 256h1v1h-1zM298 256h1v1h-1zM299 257h1v2h-1zM300 259h1v1h-1zM301 259h1v1h-1zM302 260h1v1h-1zM303 260h1v1h-1zM304 260h1v1h-1zM305 261h1v1h-1zM306 261h1v1h-1zM307 261h1v1h-1zM308 261h1v1h-1zM309 260h1v1h-1zM310 260h1v1h-1zM311 260h1v1h-1zM312 260h1v1h-1zM313 259h1v1h-1zM314 259h1v1h-1zM315 259h1v1h-1zM316 259h1v1h-1zM317 259h1v1h-1zM318 259h1v1h-1zM319 260h1v1h-1zM320 261h1v1h-1zM321 262h1v1h-1zM322 262h1v2h-1zM323 264h1v2h-1zM324 266h1v1h-1zM325 267h1v2h-1zM326 269h1v2h-1zM327 271h1v2h-1zM328 273h1v2h-1zM329 275h1v2h-1zM330 277h1v2h-1zM331 279h1v2h-1zM332 281h1v2h-1zM333 283h1v3h-1zM334 286h1v2h-1zM335 288h1v3h-1zM336 291h1v2h-1zM337 293h1v2h-1zM338 295h1v2h-1zM339 297h1v2h-1zM340 299h1v2h-1zM341 301h1v2h-1zM342 303h1v2h-1zM343 305h1v3h-1zM344 308h1v2h-1zM345 310h1v2h-1zM346 312h1v2h-1zM347 314h1v3h-1zM348 317h1v3h-1zM349 320h1v3h-1zM350 323h1v2h-1zM351 325h1v3h-1zM352 328h1v3h-1zM353 331h1v3h-1zM354 334h1v3h-1zM355 337h1v3h-1zM356 340h1v3h-1zM357 343h1v4h-1zM358 347h1v3h-1zM359 350h1v3h-1zM360 353h1v4h-1zM361 357h1v3h-1zM362 360h1v3h-1zM363 363h1v4h-1zM364 367h1v4h-1zM365 371h1v4h-1zM366 375h1v3h-1zM367 378h1v5h-1zM368 383h1v5h-1zM369 388h1v4h-1zM370 392h1v5h-1zM371 397h1v5h-1zM372 402h1v2h-1zM373 404h1v3h-1zM374 407h1v3h-1zM375 410h1v3h-1zM376 413h1v2h-1zM377 415h1v2h-1zM378 417h1v1h-1zM379 418h1v2h-1zM380 420h1v1h-1zM381 421h1v2h-1zM382 423h1v1h-1zM383 423h1v1h-1zM384 423h1v1h-1zM385 423h1v1h-1zM386 424h1v1h-1zM387 424h1v1h-1zM388 425h1v1h-1zM389 426h1v1h-1zM390 427h1v1h-1zM391 428h1v1h-1zM392 429h1v1h-1zM393 430h1v1h-1zM394 430h1v1h-1zM395 431h1v1h-1zM396 432h1v1h-1zM397 433h1v1h-1zM398 434h1v1h-1zM399 435h1v1h-1zM400 436h1v1h-1zM401 437h1v1h-1zM402 438h1v1h-1zM403 438h1v1h-1zM404 438h1v1h-1zM405 438h1v1h-1zM406 438h1v1h-1zM407 438h1v1h-1zM408 437h1v1h-1zM409 436h1v1h-1zM410 435h1v1h-1zM411 434h1v1h-1zM412 432h1v2h-1zM413 431h1v1h-1zM414 430h1v1h-1zM415 429h1v1h-1zM416 428h1v1h-1zM417 426h1v2h-1zM418 425h1v1h-1zM419 423h1v2h-1zM420 422h1v1h-1zM421 420h1v2h-1zM422 417h1v3h-1zM423 415h1v2h-1zM424 412h1v3h-1zM425 409h1v3h-1zM426 406h1v3h-1zM427 403h1v3h-1zM428 399h1v4h-1zM429 395h1v4h-1zM430 391h1v4h-1zM431 388h1v3h-1zM432 384h1v4h-1zM433 380h1v4h-1zM434 376h1v4h-1zM435 372h1v4h-1zM436 368h1v4h-1zM437 363h1v5h-1zM438 358h1v5h-1zM439 354h1v4h-1zM440 349h1v5h-1zM441 344h1v5h-1zM442 337h1v7h-1zM443 330h1v7h-1zM444 323h1v7h-1zM445 316h1v7h-1zM446 309h1v7h-1zM447 302h1v7h-1zM448 295h1v7h-1zM449 288h1v7h-1zM450 283h1v5h-1zM451 277h1v6h-1zM452 271h1v6h-1zM453 268h1v3h-1zM454 264h1v4h-1zM455 260h1v4h-1zM456 257h1v3h-1zM457 253h1v4h-1zM458 250h1v3h-1zM459 247h1v3h-1zM460 244h1v3h-1zM461 241h1v3h-1zM462 239h1v2h-1zM463 237h1v2h-1zM464 236h1v1h-1zM465 234h1v2h-1zM466 232h1v2h-1zM467 231h1v1h-1zM468 230h1v1h-1zM469 229h1v1h-1zM470 228h1v1h-1zM471 227h1v1h-1zM472 226h1v1h-1zM473 225h1v1h-1zM474 224h1v1h-1zM475 223h1v1h-1zM476 222h1v1h-1zM477 222h1v1h-1zM478 221h1v1h-1zM479 220h1v1h-1zM480 220h1v1h-1zM481 219h1v1h-1zM482 219h1v1h-1zM483 220h1v1h-1zM484 220h1v1h-1zM485 220h1v1h-1zM486 221h1v3h-1zM487 224h1v2h-1zM488 226h1v2h-1zM489 228h1v3h-1zM490 231h1v2h-1zM491 233h1v3h-1zM492 236h1v2h-1zM493 238h1v3h-1zM494 241h1v2h-1zM495 243h1v3h-1zM496 246h1v3h-1zM497 249h1v2h-1zM498 251h1v3h-1zM499 254h1v5h-1zM500 259h1v5h-1zM501 264h1v5h-1zM502 269h1v5h-1zM503 274h1v5h-1zM504 279h1v5h-1zM505 284h1v5h-1zM506 289h1v5h-1zM507 294h1v5h-1zM508 299h1v5h-1zM509 304h1v4h-1zM510 308h1v5h-1zM511 313h1v4h-1zM512 317h1v5h-1zM513 322h1v4h-1zM514 326h1v1h-1zM515 327h1v1h-1zM516 328h1v1h-1zM517 329h1v1h-1zM518 329h1v1h-1zM519 330h1v1h-1zM520 330h1v1h-1zM521 331h1v1h-1zM522 331h1v1h-1zM523 330h1v2h-1zM524 328h1v2h-1zM525 327h1v1h-1zM526 324h1v3h-1zM527 321h1v3h-1zM528 317h1v4h-1zM529 314h1v3h-1zM530 311h1v3h-1zM531 308h1v3h-1zM532 306h1v2h-1zM533 304h1v2h-1zM534 302h1v2h-1zM535 299h1v3h-1zM536 298h1v1h-1zM537 296h1v2h-1zM538 295h1v1h-1zM539 293h1v2h-1zM540 292h1v1h-1zM541 290h1v2h-1zM542 289h1v1h-1zM543 288h1v1h-1zM544 287h1v1h-1zM545 285h1v2h-1zM546 284h1v1h-1zM547 283h1v1h-1zM548 283h1v1h-1zM549 282h1v1h-1zM550 281h1v1h-1zM551 280h1v1h-1zM552 280h1v1h-1zM553 280h1v1h-1zM554 281h1v1h-1zM555 281h1v1h-1zM556 281h1v2h-1zM557 283h1v1h-1zM558 284h1v2h-1zM559 286h1v1h-1zM560 287h1v2h-1zM561 289h1v1h-1zM562 290h1v2h-1zM563 292h1v2h-1zM564 294h1v2h-1zM565 296h1v1h-1zM566 297h1v2h-1zM567 299h1v2h-1zM568 301h1v2h-1zM569 303h1v2h-1zM570 305h1v3h-1zM571 308h1v2h-1zM572 310h1v2h-1zM573 312h1v2h-1zM574 314h1v2h-1zM575 316h1v2h-1zM576 318h1v1h-1zM577 319h1v2h-1zM578 321h1v1h-1zM579 322h1v2h-1zM580 324h1v2h-1zM581 326h1v1h-1zM582 327h1v1h-1zM583 328h1v1h-1zM584 329h1v1h-1zM585 330h1v1h-1zM586 330h1v1h-1zM587 330h1v1h-1zM588 330h1v1h-1zM589 329h1v2h-1zM590 327h1v2h-1zM591 326h1v1h-1zM592 324h1v2h-1zM593 322h1v2h-1zM594 320h1v2h-1zM595 318h1v2h-1zM596 316h1v2h-1zM597 314h1v2h-1zM598 312h1v2h-1zM599 310h1v2h-1zM600 309h1v1h-1zM601 307h1v2h-1zM602 306h1v1h-1zM603 305h1v1h-1zM604 304h1v1h-1zM605 303h1v1h-1zM606 302h1v1h-1zM607 301h1v1h-1zM608 301h1v1h-1zM609 301h1v1h-1zM610 302h1v1h-1zM611 303h1v1h-1zM612 304h1v1h-1zM613 305h1v1h-1zM614 306h1v1h-1zM615 307h1v1h-1zM616 308h1v1h-1zM617 307h1v1h-1zM618 307h1v1h-1zM619 307h1v1h-1zM620 307h1v1h-1zM621 307h1v1h-1zM622 307h1v1h-1zM623 308h1v1h-1zM624 308h1v1h-1zM625 309h1v2h-1zM626 311h1v1h-1zM627 312h1v2h-1zM628 314h1v1h-1zM629 315h1v2h-1zM630 317h1v1h-1zM631 317h1v1h-1zM632 318h1v1h-1zM633 318h1v1h-1zM634 319h1v1h-1zM635 317h1v2h-1zM636 315h1v2h-1zM637 313h1v2h-1zM638 311h1v2h-1zM639 310h1v1h-1zM640 308h1v2h-1zM641 307h1v1h-1zM642 305h1v2h-1zM643 304h1v1h-1zM644 303h1v1h-1zM645 302h1v1h-1zM646 302h1v1h-1zM647 302h1v1h-1zM648 302h1v1h-1zM649 302h1v1h-1zM650 302h1v1h-1zM651 302h1v1h-1zM652 303h1v1h-1zM653 303h1v1h-1zM654 304h1v1h-1zM655 304h1v1h-1zM656 303h1v1h-1zM657 303h1v1h-1zM658 302h1v1h-1zM659 301h1v1h-1zM660 301h1v2h-1zM661 303h1v1h-1zM662 304h1v1h-1zM663 305h1v1h-1zM664 306h1v1h-1zM665 307h1v1h-1zM666 308h1v1h-1zM667 309h1v2h-1zM668 311h1v1h-1zM669 312h1v1h-1zM670 313h1v1h-1zM671 313h1v1h-1zM672 314h1v1h-1zM673 314h1v1h-1zM674 315h1v1h-1zM675 315h1v1h-1zM676 315h1v1h-1zM677 315h1v1h-1zM678 314h1v1h-1zM679 314h1v1h-1zM680 314h1v1h-1zM681 314h1v1h-1zM682 314h1v1h-1zM683 314h1v1h-1zM684 314h1v1h-1zM685 314h1v1h-1zM686 314h1v1h-1zM687 313h1v1h-1zM688 313h1v1h-1zM689 313h1v1h-1zM690 310h1v3h-1zM691 308h1v2h-1zM692 305h1v3h-1zM693 303h1v2h-1zM694 300h1v3h-1zM695 298h1v2h-1zM696 295h1v3h-1zM697 293h1v2h-1zM698 290h1v3h-1zM699 288h1v2h-1zM700 285h1v3h-1zM701 283h1v2h-1zM702 280h1v3h-1zM703 278h1v2h-1zM704 275h1v3h-1zM705 273h1v2h-1zM706 270h1v3h-1zM707 268h1v2h-1zM708 266h1v2h-1zM709 264h1v2h-1zM710 262h1v2h-1zM711 260h1v2h-1zM712 259h1v1h-1zM713 257h1v2h-1zM714 256h1v1h-1zM715 255h1v1h-1zM716 254h1v1h-1zM717 253h1v1h-1zM718 253h1v1h-1zM719 253h1v1h-1zM720 253h1v1h-1zM721 253h1v1h-1zM722 254h1v1h-1zM723 255h1v1h-1zM724 256h1v2h-1zM725 258h1v1h-1zM726 259h1v2h-1zM727 261h1v1h-1zM728 262h1v2h-1zM729 264h1v1h-1zM730 265h1v1h-1zM731 266h1v2h-1zM732 268h1v1h-1zM733 269h1v1h-1zM734 270h1v1h-1zM735 270h1v1h-1zM736 269h1v1h-1zM737 268h1v1h-1zM738 268h1v1h-1zM739 266h1v2h-1zM740 264h1v2h-1zM741 262h1v2h-1zM742 260h1v2h-1zM743 258h1v2h-1zM744 256h1v2h-1zM745 255h1v1h-1zM746 253h1v2h-1zM747 251h1v2h-1zM748 249h1v2h-1zM749 248h1v1h-1zM750 247h1v1h-1zM751 245h1v2h-1zM752 244h1v1h-1zM753 243h1v1h-1zM754 242h1v1h-1zM755 241h1v1h-1zM756 240h1v1h-1zM757 240h1v1h-1zM758 239h1v1h-1zM759 238h1v1h-1zM760 239h1v1h-1zM761 240h1v1h-1zM762 240h1v1h-1zM763 241h1v1h-1zM764 242h1v1h-1zM765 243h1v1h-1zM766 244h1v2h-1zM767 246h1v1h-1zM768 247h1v1h-1zM769 248h1v1h-1zM770 248h1v1h-1zM771 248h1v1h-1zM772 247h1v1h-1zM773 247h1v1h-1zM774 246h1v2h-1zM775 244h1v2h-1zM776 242h1v2h-1zM777 240h1v2h-1zM778 238h1v2h-1zM779 231h1v7h-1zM780 225h1v6h-1zM781 219h1v6h-1zM782 214h1v5h-1zM783 209h1v5h-1zM784 205h1v4h-1zM785 200h1v5h-1zM786 195h1v5h-1zM787 191h1v4h-1zM788 186h1v5h-1zM789 182h1v4h-1zM790 177h1v5h-1zM791 173h1v4h-1zM792 169h1v4h-1zM793 164h1v5h-1zM794 160h1v4h-1zM795 156h1v4h-1zM796 153h1v3h-1zM797 151h1v2h-1zM798 148h1v3h-1zM799 146h1v2h-1zM800 145h1v1h-1zM801 144h1v1h-1zM802 143h1v1h-1zM803 142h1v1h-1zM804 141h1v1h-1zM805 140h1v1h-1zM806 139h1v1h-1zM807 138h1v1h-1zM808 139h1v1h-1zM809 140h1v1h-1zM810 141h1v1h-1zM811 142h1v2h-1zM812 144h1v2h-1zM813 146h1v2h-1zM814 148h1v2h-1zM815 150h1v3h-1zM816 153h1v4h-1zM817 157h1v3h-1zM818 160h1v3h-1zM819 163h1v4h-1zM820 167h1v4h-1zM821 171h1v3h-1zM822 174h1v4h-1zM823 178h1v3h-1zM824 181h1v4h-1zM825 185h1v2h-1zM826 187h1v2h-1zM827 189h1v1h-1zM828 190h1v1h-1zM829 191h1v1h-1zM830 192h1v1h-1zM831 193h1v1h-1zM832 194h1v2h-1zM833 196h1v1h-1zM834 196h1v1h-1zM835 197h1v1h-1zM836 198h1v1h-1zM837 199h1v1h-1zM838 199h1v1h-1zM839 198h1v1h-1zM840 198h1v1h-1zM841 197h1v1h-1zM842 196h1v1h-1zM843 195h1v1h-1zM844 194h1v1h-1zM845 194h1v1h-1zM846 193h1v1h-1zM847 193h1v1h-1zM848 192h1v1h-1zM849 192h1v1h-1zM850 192h1v1h-1zM851 191h1v1h-1zM852 191h1v1h-1zM853 191h1v1h-1zM854 191h1v1h-1zM855 191h1v1h-1zM856 191h1v1h-1zM857 191h1v1h-1zM858 191h1v1h-1zM859 191h1v1h-1zM860 190h1v1h-1zM861 189h1v1h-1zM862 188h1v1h-1zM863 188h1v1h-1zM864 187h1v1h-1zM865 185h1v2h-1zM866 184h1v1h-1zM867 183h1v1h-1zM868 182h1v1h-1zM869 180h1v2h-1zM870 178h1v2h-1zM871 176h1v2h-1zM872 175h1v1h-1zM873 173h1v2h-1zM874 171h1v2h-1zM875 168h1v3h-1zM876 166h1v2h-1zM877 164h1v2h-1zM878 162h1v2h-1zM879 159h1v3h-1zM880 156h1v3h-1zM881 154h1v2h-1zM882 151h1v3h-1zM883 148h1v3h-1zM884 145h1v3h-1zM885 142h1v3h-1zM886 139h1v3h-1zM887 136h1v3h-1zM888 133h1v3h-1zM889 130h1v3h-1zM890 127h1v3h-1zM891 123h1v4h-1zM892 120h1v3h-1zM893 116h1v4h-1zM894 114h1v2h-1zM895 112h1v2h-1zM896 110h1v2h-1zM897 107h1v3h-1zM898 105h1v2h-1zM899 103h1v2h-1zM900 102h1v1h-1zM901 100h1v2h-1zM902 99h1v1h-1zM903 98h1v1h-1zM904 97h1v1h-1zM905 96h1v1h-1zM906 96h1v1h-1zM907 95h1v1h-1zM908 95h1v1h-1zM909 95h1v1h-1zM910 95h1v1h-1zM911 95h1v2h-1zM912 97h1v2h-1zM913 99h1v1h-1zM914 100h1v3h-1zM915 103h1v2h-1zM916 105h1v2h-1zM917 107h1v3h-1zM918 110h1v4h-1zM919 114h1v4h-1zM920 118h1v4h-1zM921 122h1v5h-1zM922 127h1v5h-1zM923 132h1v5h-1zM924 137h1v3h-1zM925 140h1v3h-1zM926 143h1v1h-1z" fill="#ff0000"/>
<path d="M3 511h1v2h-1zM4 509h1v2h-1zM5 507h1v2h-1zM6 505h1v2h-1zM7 503h1v2h-1zM8 502h1v1h-1zM9 500h1v2h-1zM10 499h1v1h-1zM11 498h1v1h-1zM12 497h1v1h-1zM13 496h1v1h-1zM14 495h1v1h-1zM15 494h1v1h-1zM16 494h1v1h-1zM17 493h1v1h-1zM18 493h1v1h-1zM19 493h1v1h-1zM20 493h1v1h-1zM21 493h1v1h-1zM22 493h1v1h-1zM23 493h1v1h-1zM24 493h1v1h-1zM25 493h1v1h-1zM26 494h1v1h-1zM27 495h1v1h-1zM28 496h1v1h-1zM29 497h1v1h-1zM30 498h1v1h-1zM31 499h1v2h-1zM32 501h1v1h-1zM33 502h1v1h-1zM34 503h1v1h-1zM35 504h1v1h-1zM36 505h1v1h-1zM37 506h1v1h-1zM38 507h1v1h-1zM39 508h1v1h-1zM40 509h1v1h-1zM41 510h1v1h-1zM42 511h1v1h-1zM43 512h1v1h-1zM44 513h1v2h-1zM45 515h1v2h-1zM46 517h1v1h-1zM47 518h1v1h-1zM48 519h1v1h-1zM49 520h1v1h-1zM50 521h1v1h-1zM51 521h1v1h-1zM52 522h1v1h-1zM53 523h1v1h-1zM54 524h1v1h-1zM55 524h1v1h-1zM56 525h1v1h-1zM57 526h1v1h-1zM58 527h1v1h-1zM59 528h1v1h-1zM60 528h1v1h-1zM61 529h1v1h-1zM62 529h1v1h-1zM63 529h1v1h-1zM64 529h1v1h-1zM65 530h1v1h-1zM66 531h1v1h-1zM67 532h1v1h-1zM68 532h1v1h-1zM69 533h1v1h-1zM70 533h1v1h-1zM71 534h1v1h-1zM72 534h1v1h-1zM73 534h1v1h-1zM74 535h1v1h-1zM75 535h1v1h-1zM76 535h1v1h-1zM77 536h1v1h-1zM78 536h1v1h-1zM79 536h1v1h-1zM80 536h1v1h-1zM81 536h1v1h-1zM82 537h1v1h-1zM83 536h1v1h-1zM84 536h1v1h-1zM85 536h1v1h-1zM86 536h1v1h-1zM87 536h1v1h-1zM88 535h1v1h-1zM89 535h1v1h-1zM90 535h1v1h-1zM91 535h1v1h-1zM92 535h1v1h-1zM93 535h1v1h-1zM94 534h1v1h-1zM95 534h1v1h-1zM96 534h1v1h-1zM97 534h1v1h-1zM98 533h1v1h-1zM99 533h1v1h-1zM100 532h1v1h-1zM101 532h1v1h-1zM102 531h1v1h-1zM103 531h1v1h-1zM104 530h1v1h-1zM105 530h1v1h-1zM106 530h1v1h-1zM107 529h1v1h-1zM108 529h1v1h-1zM109 528h1v1h-1zM110 528h1v1h-1zM111 528h1v1h-1zM112 527h1v1h-1zM113 527h1v1h-1zM114 526h1v1h-1zM115 526h1v1h-1zM116 526h1v1h-1zM117 525h1v1h-1zM118 525h1v1h-1zM119 525h1v1h-1zM120 524h1v1h-1zM121 524h1v1h-1zM122 524h1v1h-1zM123 524h1v1h-1zM124 524h1v1h-1zM125 524h1v1h-1zM126 524h1v1h-1zM127 524h1v1h-1zM128 524h1v1h-1zM129 524h1v1h-1zM130 524h1v1h-1zM131 525h1v1h-1zM132 525h1v1h-1zM133 526h1v1h-1zM134 527h1v1h-1zM135 528h1v1h-1zM136 528h1v1h-1zM137 529h1v1h-1zM138 530h1v1h-1zM139 531h1v1h-1zM140 532h1v1h-1zM141 532h1v1h-1zM142 533h1v1h-1zM143 534h1v1h-1zM144 535h1v1h-1zM145 536h1v1h-1zM146 536h1v1h-1zM147 537h1v1h-1zM148 537h1v1h-1zM149 538h1v1h-1zM150 538h1v1h-1zM151 538h1v1h-1zM152 539h1v1h-1zM153 539h1v1h-1zM154 539h1v1h-1zM155 538h1v1h-1zM156 538h1v1h-1zM157 538h1v1h-1zM158 538h1v1h-1zM159 538h1v1h-1zM160 538h1v1h-1zM161 537h1v1h-1zM162 537h1v1h-1zM163 537h1v1h-1zM164 537h1v1h-1zM165 537h1v1h-1zM166 537h1v1h-1zM167 536h1v1h-1zM168 536h1v1h-1zM169 536h1v1h-1zM170 536h1v1h-1zM171 536h1v1h-1zM172 536h1v1h-1zM173 536h1v1h-1zM174 536h1v1h-1zM175 537h1v1h-1zM176 538h1v1h-1zM177 538h1v1h-1zM178 539h1v1h-1zM179 540h1v1h-1zM180 541h1v2h-1zM181 543h1v1h-1zM182 544h1v1h-1zM183 545h1v1h-1zM184 546h1v1h-1zM185 547h1v1h-1zM186 548h1v1h-1zM187 549h1v1h-1zM188 550h1v1h-1zM189 551h1v1h-1zM190 552h1v1h-1zM191 553h1v1h-1zM192 553h1v1h-1zM193 554h1v1h-1zM194 554h1v1h-1zM195 555h1v1h-1zM196 555h1v1h-1zM197 555h1v1h-1zM198 556h1v1h-1zM199 556h1v1h-1zM200 557h1v1h-1zM201 556h1v1h-1zM202 556h1v1h-1zM203 556h1v1h-1zM204 556h1v1h-1zM205 556h1v1h-1zM206 556h1v1h-1zM207 556h1v1h-1zM208 556h1v1h-1zM209 555h1v1h-1zM210 555h1v1h-1zM211 554h1v1h-1zM212 554h1v1h-1zM213 553h1v1h-1zM214 553h1v1h-1zM215 552h1v1h-1zM216 551h1v1h-1zM217 551h1v1h-1zM218 550h1v1h-1zM219 549h1v1h-1zM220 549h1v1h-1zM221 548h1v1h-1zM222 547h1v1h-1zM223 547h1v1h-1zM224 546h1v1h-1zM225 546h1v1h-1zM226 545h1v1h-1zM227 545h1v1h-1zM228 544h1v1h-1zM229 544h1v1h-1zM230 544h1v1h-1zM231 544h1v1h-1zM232 544h1v1h-1zM233 544h1v1h-1zM234 544h1v1h-1zM235 544h1v1h-1zM236 544h1v1h-1zM237 544h1v1h-1zM238 544h1v1h-1zM239 544h1v1h-1zM240 544h1v1h-1zM241 543h1v1h-1zM242 543h1v1h-1zM243 543h1v1h-1zM244 543h1v1h-1zM245 542h1v1h-1zM246 542h1v1h-1zM247 541h1v1h-1zM248 541h1v1h-1zM249 540h1v1h-1zM250 540h1v1h-1zM251 539h1v1h-1zM252 539h1v1h-1zM253 538h1v1h-1zM254 538h1v1h-1zM255 537h1v1h-1zM256 537h1v1h-1zM257 537h1v1h-1zM258 536h1v1h-1zM259 536h1v1h-1zM260 535h1v1h-1zM261 535h1v1h-1zM262 535h1v1h-1zM263 535h1v1h-1zM264 535h1v1h-1zM265 535h1v1h-1zM266 535h1v1h-1zM267 535h1v1h-1zM268 535h1v1h-1zM269 535h1v1h-1zM270 535h1v1h-1zM271 535h1v1h-1zM272 535h1v1h-1zM273 535h1v1h-1zM274 535h1v1h-1zM275 534h1v1h-1zM276 534h1v1h-1zM277 534h1v1h-1zM278 534h1v1h-1zM279 534h1v1h-1zM280 534h1v1h-1zM281 533h1v1h-1zM282 533h1v1h-1zM283 533h1v1h-1zM284 533h1v1h-1zM285 533h1v1h-1zM286 533h1v1h-1zM287 533h1v1h-1zM288 533h1v1h-1zM289 533h1v1h-1zM290 533h1v1h-1zM291 534h1v1h-1zM292 534h1v1h-1zM293 535h1v1h-1zM294 535h1v1h-1zM295 536h1v1h-1zM296 536h1v1h-1zM297 537h1v1h-1zM298 537h1v1h-1zM299 538h1v1h-1zM300 538h1v1h-1zM301 538h1v1h-1zM302 538h1v1h-1zM303 538h1v1h-1zM304 539h1v1h-1zM305 539h1v1h-1zM306 539h1v1h-1zM307 539h1v1h-1zM308 539h1v1h-1zM309 538h1v1h-1zM310 538h1v1h-1zM311 538h1v1h-1zM312 538h1v1h-1zM313 538h1v1h-1zM314 538h1v1h-1zM315 538h1v1h-1zM316 538h1v1h-1zM317 538h1v1h-1zM318 538h1v1h-1zM319 538h1v1h-1zM320 538h1v1h-1zM321 538h1v1h-1zM322 538h1v1h-1zM323 539h1v1h-1zM324 539h1v1h-1zM325 540h1v1h-1zM326 540h1v1h-1zM327 541h1v1h-1zM328 541h1v1h-1zM329 542h1v1h-1zM330 542h1v1h-1zM331 543h1v1h-1zM332 543h1v1h-1zM333 544h1v1h-1zM334 544h1v1h-1zM335 545h1v1h-1zM336 545h1v1h-1zM337 546h1v1h-1zM338 546h1v1h-1zM339 547h1v1h-1zM340 547h1v1h-1zM341 547h1v1h-1zM342 548h1v1h-1zM343 548h1v1h-1zM344 548h1v1h-1zM345 548h1v1h-1zM346 549h1v1h-1zM347 549h1v1h-1zM348 549h1v1h-1zM349 550h1v1h-1zM350 550h1v1h-1zM351 551h1v1h-1zM352 551h1v1h-1zM353 552h1v1h-1zM354 552h1v1h-1zM355 553h1v1h-1zM356 554h1v1h-1zM357 555h1v1h-1zM358 555h1v1h-1zM359 556h1v1h-1zM360 557h1v1h-1zM361 558h1v1h-1zM362 559h1v1h-1zM363 559h1v1h-1zM364 560h1v1h-1zM365 560h1v1h-1zM366 561h1v1h-1zM367 561h1v1h-1zM368 562h1v1h-1zM369 562h1v1h-1zM370 563h1v1h-1zM371 563h1v1h-1zM372 563h1v1h-1zM373 563h1v1h-1zM374 563h1v1h-1zM375 564h1v1h-1zM376 563h1v1h-1zM377 563h1v1h-1zM378 563h1v1h-1zM379 563h1v1h-1zM380 563h1v1h-1zM381 563h1v1h-1zM382 563h1v1h-1zM383 562h1v1h-1zM384 562h1v1h-1zM385 561h1v1h-1zM386 561h1v1h-1zM387 561h1v1h-1zM388 560h1v1h-1zM389 560h1v1h-1zM390 560h1v1h-1zM391 559h1v1h-1zM392 559h1v1h-1zM393 559h1v1h-1zM394 558h1v1h-1zM395 558h1v1h-1zM396 558h1v1h-1zM397 557h1v1h-1zM398 557h1v1h-1zM399 557h1v1h-1zM400 557h1v1h-1zM401 556h1v1h-1zM402 556h1v1h-1zM403 556h1v1h-1zM404 555h1v1h-1zM405 555h1v1h-1zM406 555h1v1h-1zM407 554h1v1h-1zM408 554h1v1h-1zM409 553h1v1h-1zM410 552h1v1h-1zM411 552h1v1h-1zM412 551h1v1h-1zM413 550h1v1h-1zM414 550h1v1h-1zM415 549h1v1h-1zM416 548h1v1h-1zM417 548h1v1h-1zM418 547h1v1h-1zM419 546h1v1h-1zM420 546h1v1h-1zM421 545h1v1h-1zM422 544h1v1h-1zM423 544h1v1h-1zM424 543h1v1h-1zM425 542h1v1h-1zM426 542h1v1h-1zM427 541h1v1h-1zM428 540h1v1h-1zM429 540h1v1h-1zM430 539h1v1h-1zM431 538h1v1h-1zM432 537h1v1h-1zM433 535h1v2h-1zM434 534h1v1h-1zM435 533h1v1h-1zM436 532h1v1h-1zM437 531h1v1h-1zM438 530h1v1h-1zM439 528h1v2h-1zM440 527h1v1h-1zM441 526h1v1h-1zM442 524h1v2h-1zM443 523h1v1h-1zM444 522h1v1h-1zM445 521h1v1h-1zM446 519h1v2h-1zM447 518h1v1h-1zM448 517h1v1h-1zM449 516h1v1h-1zM450 515h1v1h-1zM451 514h1v1h-1zM452 513h1v1h-1zM453 512h1v1h-1zM454 512h1v1h-1zM455 511h1v1h-1zM456 511h1v1h-1zM457 510h1v1h-1zM458 509h1v1h-1zM459 509h1v1h-1zM460 508h1v1h-1zM461 508h1v1h-1zM462 508h1v1h-1zM463 508h1v1h-1zM464 508h1v1h-1zM465 508h1v1h-1zM466 509h1v1h-1zM467 509h1v1h-1zM468 509h1v1h-1zM469 510h1v1h-1zM470 510h1v1h-1zM471 511h1v1h-1zM472 511h1v1h-1zM473 511h1v1h-1zM474 512h1v1h-1zM475 513h1v1h-1zM476 513h1v1h-1zM477 514h1v1h-1zM478 514h1v1h-1zM479 515h1v1h-1zM480 516h1v1h-1zM481 516h1v1h-1zM482 517h1v1h-1zM483 517h1v1h-1zM484 518h1v1h-1zM485 518h1v1h-1zM486 519h1v1h-1zM487 520h1v1h-1zM488 521h1v1h-1zM489 522h1v1h-1zM490 523h1v1h-1zM491 524h1v1h-1zM492 525h1v1h-1zM493 526h1v1h-1zM494 527h1v1h-1zM495 528h1v1h-1zM496 529h1v2h-1zM497 531h1v1h-1zM498 532h1v2h-1zM499 534h1v1h-1zM500 535h1v2h-1zM501 537h1v2h-1zM502 539h1v2h-1zM503 541h1v1h-1zM504 542h1v2h-1zM505 544h1v1h-1zM506 545h1v1h-1zM507 546h1v1h-1zM508 547h1v1h-1zM509 548h1v1h-1zM510 549h1v1h-1zM511 550h1v1h-1zM512 550h1v1h-1zM513 551h1v1h-1zM514 552h1v1h-1zM515 552h1v1h-1zM516 552h1v1h-1zM517 552h1v1h-1zM518 553h1v1h-1zM519 553h1v1h-1zM520 553h1v1h-1zM521 552h1v1h-1zM522 552h1v1h-1zM523 552h1v1h-1zM524 551h1v1h-1zM525 551h1v1h-1zM526 551h1v1h-1zM527 551h1v1h-1zM528 550h1v1h-1zM529 549h1v1h-1zM530 548h1v1h-1zM531 547h1v1h-1zM532 547h1v1h-1zM533 546h1v1h-1zM534 545h1v1h-1zM535 544h1v1h-1zM536 543h1v1h-1zM537 543h1v1h-1zM538 542h1v1h-1zM539 541h1v1h-1zM540 540h1v1h-1zM541 540h1v1h-1zM542 539h1v1h-1zM543 539h1v1h-1zM544 538h1v1h-1zM545 538h1v1h-1zM546 538h1v1h-1zM547 537h1v1h-1zM548 537h1v1h-1zM549 537h1v1h-1zM550 537h1v1h-1zM551 537h1v1h-1zM552 537h1v1h-1zM553 537h1v1h-1zM554 537h1v1h-1zM555 537h1v1h-1zM556 537h1v1h-1zM557 537h1v1h-1zM558 538h1v1h-1zM559 538h1v1h-1zM560 539h1v1h-1zM561 539h1v1h-1zM562 540h1v1h-1zM563 540h1v1h-1zM564 541h1v1h-1zM565 541h1v1h-1zM566 542h1v1h-1zM567 542h1v1h-1zM568 543h1v1h-1zM569 543h1v1h-1zM570 544h1v1h-1zM571 544h1v1h-1zM572 545h1v1h-1zM573 545h1v1h-1zM574 545h1v1h-1zM575 545h1v1h-1zM576 546h1v1h-1zM577 546h1v1h-1zM578 546h1v1h-1zM579 546h1v1h-1zM580 547h1v1h-1zM581 547h1v1h-1zM582 547h1v1h-1zM583 547h1v1h-1zM584 547h1v1h-1zM585 547h1v1h-1zM586 547h1v1h-1zM587 547h1v1h-1zM588 546h1v1h-1zM589 546h1v1h-1zM590 545h1v1h-1zM591 545h1v1h-1zM592 544h1v1h-1zM593 544h1v1h-1zM594 543h1v1h-1zM595 543h1v1h-1zM596 542h1v1h-1zM597 542h1v1h-1zM598 541h1v1h-1zM599 541h1v1h-1zM600 541h1v1h-1zM601 540h1v1h-1zM602 539h1v1h-1zM603 539h1v1h-1zM604 538h1v1h-1zM605 538h1v1h-1zM606 537h1v1h-1zM607 537h1v1h-1zM608 537h1v1h-1zM609 537h1v1h-1zM610 537h1v1h-1zM611 537h1v1h-1zM612 537h1v1h-1zM613 537h1v1h-1zM614 537h1v1h-1zM615 537h1v1h-1zM616 538h1v1h-1zM617 538h1v1h-1zM618 539h1v1h-1zM619 539h1v1h-1zM620 540h1v1h-1zM621 540h1v1h-1zM622 540h1v1h-1zM623 540h1v1h-1zM624 540h1v1h-1zM625 541h1v1h-1zM626 541h1v1h-1zM627 541h1v1h-1zM628 541h1v1h-1zM629 541h1v1h-1zM630 540h1v1h-1zM631 540h1v1h-1zM632 540h1v1h-1zM633 540h1v1h-1zM634 540h1v1h-1zM635 539h1v1h-1zM636 539h1v1h-1zM637 539h1v1h-1zM638 539h1v1h-1zM639 539h1v1h-1zM640 539h1v1h-1zM641 538h1v1h-1zM642 538h1v1h-1zM643 538h1v1h-1zM644 538h1v1h-1zM645 538h1v1h-1zM646 538h1v1h-1zM647 538h1v1h-1zM648 538h1v1h-1zM649 538h1v1h-1zM650 538h1v1h-1zM651 538h1v1h-1zM652 538h1v1h-1zM653 538h1v1h-1zM654 538h1v1h-1zM655 538h1v1h-1zM656 538h1v1h-1zM657 538h1v1h-1zM658 538h1v1h-1zM659 538h1v1h-1zM660 538h1v1h-1zM661 538h1v1h-1zM662 538h1v1h-1zM663 539h1v1h-1zM664 539h1v1h-1zM665 539h1v1h-1zM666 539h1v1h-1zM667 540h1v1h-1zM668 540h1v1h-1zM669 540h1v1h-1zM670 541h1v1h-1zM671 541h1v1h-1zM672 541h1v1h-1zM673 541h1v1h-1zM674 541h1v1h-1zM675 541h1v1h-1zM676 541h1v1h-1zM677 542h1v1h-1zM678 542h1v1h-1zM679 542h1v1h-1zM680 542h1v1h-1zM681 542h1v1h-1zM682 541h1v1h-1zM683 541h1v1h-1zM684 541h1v1h-1zM685 541h1v1h-1zM686 541h1v1h-1zM687 541h1v1h-1zM688 540h1v1h-1zM689 540h1v1h-1zM690 540h1v1h-1zM691 539h1v1h-1zM692 539h1v1h-1zM693 539h1v1h-1zM694 538h1v1h-1zM695 538h1v1h-1zM696 537h1v1h-1zM697 537h1v1h-1zM698 536h1v1h-1zM699 536h1v1h-1zM700 535h1v1h-1zM701 535h1v1h-1zM702 534h1v1h-1zM703 534h1v1h-1zM704 533h1v1h-1zM705 533h1v1h-1zM706 532h1v1h-1zM707 531h1v1h-1zM708 531h1v1h-1zM709 530h1v1h-1zM710 530h1v1h-1zM711 529h1v1h-1zM712 529h1v1h-1zM713 528h1v1h-1zM714 528h1v1h-1zM715 528h1v1h-1zM716 527h1v1h-1zM717 527h1v1h-1zM718 528h1v1h-1zM719 528h1v1h-1zM720 528h1v1h-1zM721 529h1v1h-1zM722 529h1v1h-1zM723 530h1v1h-1zM724 531h1v1h-1zM725 531h1v1h-1zM726 532h1v1h-1zM727 533h1v1h-1zM728 533h1v1h-1zM729 534h1v1h-1zM730 534h1v1h-1zM731 535h1v1h-1zM732 535h1v1h-1zM733 536h1v1h-1zM734 536h1v1h-1zM735 537h1v1h-1zM736 537h1v1h-1zM737 537h1v1h-1zM738 537h1v1h-1zM739 537h1v1h-1zM740 537h1v1h-1zM741 536h1v1h-1zM742 535h1v1h-1zM743 535h1v1h-1zM744 534h1v1h-1zM745 534h1v1h-1zM746 533h1v1h-1zM747 533h1v1h-1zM748 532h1v1h-1zM749 532h1v1h-1zM750 532h1v1h-1zM751 532h1v1h-1zM752 531h1v1h-1zM753 531h1v1h-1zM754 531h1v1h-1zM755 531h1v1h-1zM756 531h1v1h-1zM757 531h1v1h-1zM758 531h1v1h-1zM759 532h1v1h-1zM760 532h1v1h-1zM761 532h1v1h-1zM762 533h1v1h-1zM763 533h1v1h-1zM764 534h1v1h-1zM765 534h1v1h-1zM766 535h1v1h-1zM767 535h1v1h-1zM768 536h1v1h-1zM769 536h1v1h-1zM770 536h1v1h-1zM771 536h1v1h-1zM772 537h1v1h-1zM773 537h1v1h-1zM774 537h1v1h-1zM775 536h1v1h-1zM776 536h1v1h-1zM777 536h1v1h-1zM778 535h1v1h-1zM779 535h1v1h-1zM780 535h1v1h-1zM781 534h1v1h-1zM782 533h1v1h-1zM783 532h1v1h-1zM784 531h1v1h-1zM785 530h1v1h-1zM786 529h1v1h-1zM787 529h1v1h-1zM788 528h1v1h-1zM789 527h1v1h-1zM790 526h1v1h-1zM791 525h1v1h-1zM792 524h1v1h-1zM793 523h1v1h-1zM794 522h1v1h-1zM795 521h1v1h-1zM796 520h1v1h-1zM797 519h1v1h-1zM798 519h1v1h-1zM799 518h1v1h-1zM800 518h1v1h-1zM801 518h1v1h-1zM802 517h1v1h-1zM803 517h1v1h-1zM804 517h1v1h-1zM805 517h1v1h-1zM806 517h1v1h-1zM807 518h1v1h-1zM808 518h1v1h-1zM809 519h1v1h-1zM810 520h1v1h-1zM811 521h1v1h-1zM812 522h1v1h-1zM813 523h1v1h-1zM814 524h1v2h-1zM815 526h1v1h-1zM816 527h1v1h-1zM817 528h1v1h-1zM818 529h1v1h-1zM819 530h1v2h-1zM820 532h1v1h-1zM821 533h1v1h-1zM822 534h1v1h-1zM823 535h1v1h-1zM824 536h1v1h-1zM825 537h1v1h-1zM826 537h1v1h-1zM827 538h1v1h-1zM828 539h1v1h-1zM829 540h1v1h-1zM830 540h1v1h-1zM831 540h1v1h-1zM832 541h1v1h-1zM833 541h1v1h-1zM834 541h1v1h-1zM835 541h1v1h-1zM836 541h1v1h-1zM837 542h1v1h-1zM838 542h1v1h-1zM839 541h1v1h-1zM840 541h1v1h-1zM841 541h1v1h-1zM842 541h1v1h-1zM843 541h1v1h-1zM844 541h1v1h-1zM845 541h1v1h-1zM846 541h1v1h-1zM847 541h1v1h-1zM848 541h1v1h-1zM849 541h1v1h-1zM850 541h1v1h-1zM851 542h1v1h-1zM852 542h1v1h-1zM853 541h1v1h-1zM854 541h1v1h-1zM855 541h1v1h-1zM856 541h1v1h-1zM857 540h1v1h-1zM858 540h1v1h-1zM859 540h1v1h-1zM860 540h1v1h-1zM861 539h1v1h-1zM862 539h1v1h-1zM863 539h1v1h-1zM864 539h1v1h-1zM865 538h1v1h-1zM866 538h1v1h-1zM867 538h1v1h-1zM868 538h1v1h-1zM869 537h1v1h-1zM870 537h1v1h-1zM871 537h1v1h-1zM872 536h1v1h-1zM873 536h1v1h-1zM874 536h1v1h-1zM875 535h1v1h-1zM876 535h1v1h-1zM877 534h1v1h-1zM878 534h1v1h-1zM879 533h1v1h-1zM880 533h1v1h-1zM881 532h1v1h-1zM882 532h1v1h-1zM883 531h1v1h-1zM884 531h1v1h-1zM885 531h1v1h-1zM886 530h1v1h-1zM887 529h1v1h-1zM888 529h1v1h-1zM889 528h1v1h-1zM890 528h1v1h-1zM891 527h1v1h-1zM892 527h1v1h-1zM893 526h1v1h-1zM894 526h1v1h-1zM895 525h1v1h-1zM896 524h1v1h-1zM897 524h1v1h-1zM898 523h1v1h-1zM899 523h1v1h-1zM900 522h1v1h-1zM901 522h1v1h-1zM902 522h1v1h-1zM903 522h1v1h-1zM904 522h1v1h-1zM905 522h1v1h-1zM906 522h1v1h-1zM907 523h1v1h-1zM908 523h1v1h-1zM909 524h1v1h-1zM910 525h1v1h-1zM911 526h1v1h-1zM912 526h1v1h-1zM913 527h1v1h-1zM914 528h1v1h-1zM915 529h1v1h-1zM916 530h1v1h-1zM917 531h1v1h-1zM918 532h1v1h-1zM919 533h1v1h-1zM920 534h1v1h-1zM921 534h1v1h-1zM922 535h1v1h-1zM923 536h1v1h-1zM924 537h1v1h-1zM925 538h1v1h-1zM926 539h1v1h-1zM927 540h1v1h-1z" fill="#ff0000"/>
<path d="M2 586h1v1h-1zM3 586h1v1h-1zM4 585h1v1h-1zM5 585h1v1h-1zM6 584h1v1h-1zM7 584h1v1h-1zM8 583h1v1h-1zM9 584h1v1h-1zM10 584h1v1h-1zM11 584h1v1h-1zM12 585h1v1h-1zM13 585h1v1h-1zM14 585h1v1h-1zM15 586h1v2h-1zM16 588h1v2h-1zM17 590h1v3h-1zM18 593h1v3h-1zM19 596h1v4h-1zM20 600h1v1h-1zM21 600h1v1h-1zM22 601h1v1h-1zM23 602h1v1h-1zM24 602h1v1h-1zM25 601h1v1h-1zM26 600h1v1h-1zM27 599h1v1h-1zM28 598h1v1h-1zM29 598h1v1h-1zM30 599h1v2h-1zM31 601h1v1h-1zM32 602h1v2h-1zM33 604h1v2h-1zM34 606h1v1h-1zM35 607h1v1h-1zM36 606h1v1h-1zM37 606h1v1h-1zM38 606h1v2h-1zM39 608h1v2h-1zM40 610h1v2h-1zM41 612h1v2h-1zM42 614h1v1h-1zM43 615h1v1h-1zM44 615h1v2h-1zM45 614h1v1h-1zM46 612h1v2h-1zM47 610h1v2h-1zM48 609h1v1h-1zM49 609h1v1h-1zM50 610h1v1h-1zM51 611h1v1h-1zM52 612h1v1h-1zM53 611h1v1h-1zM54 610h1v1h-1zM55 609h1v1h-1zM56 608h1v1h-1zM57 609h1v1h-1zM58 610h1v1h-1zM59 611h1v1h-1zM60 611h1v1h-1zM61 612h1v1h-1zM62 613h1v1h-1zM63 614h1v2h-1zM64 616h1v2h-1zM65 618h1v2h-1zM66 620h1v2h-1zM67 622h1v1h-1zM68 620h1v2h-1zM69 617h1v3h-1zM70 615h1v2h-1zM71 614h1v1h-1zM72 613h1v1h-1zM73 612h1v1h-1zM74 611h1v1h-1zM75 611h1v1h-1zM76 612h1v1h-1zM77 612h1v1h-1zM78 612h1v1h-1zM79 611h1v1h-1zM80 610h1v1h-1zM81 610h1v1h-1zM82 610h1v1h-1zM83 610h1v1h-1zM84 610h1v1h-1zM85 609h1v1h-1zM86 608h1v1h-1zM87 607h1v1h-1zM88 607h1v1h-1zM89 606h1v1h-1zM90 605h1v1h-1zM91 605h1v1h-1zM92 606h1v2h-1zM93 608h1v1h-1zM94 609h1v1h-1zM95 608h1v1h-1zM96 607h1v1h-1zM97 607h1v1h-1zM98 606h1v1h-1zM99 605h1v1h-1zM100 603h1v2h-1zM101 602h1v1h-1zM102 601h1v1h-1zM103 599h1v2h-1zM104 598h1v1h-1zM105 597h1v1h-1zM106 597h1v1h-1zM107 597h1v1h-1zM108 596h1v1h-1zM109 596h1v1h-1zM110 596h1v1h-1zM111 596h1v1h-1zM112 597h1v2h-1zM113 599h1v2h-1zM114 601h1v4h-1zM115 605h1v1h-1zM116 604h1v1h-1zM117 602h1v2h-1zM118 600h1v2h-1zM119 599h1v1h-1zM120 599h1v1h-1zM121 599h1v1h-1zM122 599h1v1h-1zM123 599h1v1h-1zM124 598h1v1h-1zM125 599h1v5h-1zM126 604h1v5h-1zM127 609h1v4h-1zM128 613h1v3h-1zM129 616h1v3h-1zM130 619h1v2h-1zM131 621h1v1h-1zM132 619h1v2h-1zM133 618h1v1h-1zM134 618h1v1h-1zM135 619h1v1h-1zM136 620h1v1h-1zM137 619h1v1h-1zM138 618h1v1h-1zM139 617h1v1h-1zM140 617h1v1h-1zM141 617h1v1h-1zM142 617h1v1h-1zM143 617h1v1h-1zM144 617h1v1h-1zM145 617h1v2h-1zM146 619h1v2h-1zM147 619h1v3h-1zM148 615h1v4h-1zM149 612h1v3h-1zM150 611h1v1h-1zM151 610h1v1h-1zM152 609h1v1h-1zM153 609h1v1h-1zM154 609h1v1h-1zM155 610h1v1h-1zM156 611h1v1h-1zM157 612h1v1h-1zM158 613h1v1h-1zM159 614h1v1h-1zM160 614h1v1h-1zM161 612h1v2h-1zM162 611h1v1h-1zM163 609h1v2h-1zM164 608h1v1h-1zM165 607h1v1h-1zM166 607h1v1h-1zM167 606h1v1h-1zM168 606h1v1h-1zM169 605h1v2h-1zM170 607h1v5h-1zM171 612h1v6h-1zM172 618h1v8h-1zM173 626h1v4h-1zM174 630h1v1h-1zM175 631h1v1h-1zM176 631h1v1h-1zM177 632h1v1h-1zM178 631h1v1h-1zM179 631h1v1h-1zM180 630h1v1h-1zM181 629h1v1h-1zM182 628h1v1h-1zM183 629h1v1h-1zM184 630h1v1h-1zM185 630h1v1h-1zM186 629h1v1h-1zM187 628h1v1h-1zM188 627h1v1h-1zM189 627h1v1h-1zM190 628h1v1h-1zM191 629h1v1h-1zM192 629h1v1h-1zM193 628h1v1h-1zM194 626h1v2h-1zM195 625h1v1h-1zM196 623h1v2h-1zM197 622h1v1h-1zM198 623h1v1h-1zM199 623h1v1h-1zM200 624h1v1h-1zM201 624h1v1h-1zM202 623h1v1h-1zM203 623h1v1h-1zM204 623h1v1h-1zM205 624h1v1h-1zM206 624h1v1h-1zM207 624h1v1h-1zM208 623h1v1h-1zM209 621h1v2h-1zM210 620h1v1h-1zM211 618h1v2h-1zM212 616h1v2h-1zM213 614h1v2h-1zM214 612h1v2h-1zM215 611h1v1h-1zM216 611h1v1h-1zM217 611h1v1h-1zM218 612h1v1h-1zM219 612h1v1h-1zM220 611h1v1h-1zM221 611h1v2h-1zM222 613h1v3h-1zM223 616h1v2h-1zM224 618h1v2h-1zM225 620h1v1h-1zM226 621h1v1h-1zM227 622h1v1h-1zM228 623h1v1h-1zM229 624h1v1h-1zM230 625h1v1h-1zM231 626h1v1h-1zM232 626h1v1h-1zM233 624h1v4h-1zM234 618h1v6h-1zM235 613h1v5h-1zM236 612h1v1h-1zM237 612h1v1h-1zM238 611h1v1h-1zM239 611h1v1h-1zM240 611h1v1h-1zM241 611h1v1h-1zM242 611h1v1h-1zM243 611h1v1h-1zM244 611h1v1h-1zM245 610h1v1h-1zM246 610h1v1h-1zM247 610h1v1h-1zM248 609h1v1h-1zM249 609h1v1h-1zM250 608h1v1h-1zM251 608h1v1h-1zM252 607h1v1h-1zM253 607h1v1h-1zM254 607h1v1h-1zM255 606h1v1h-1zM256 606h1v1h-1zM257 605h1v3h-1zM258 608h1v4h-1zM259 612h1v2h-1zM260 614h1v1h-1zM261 615h1v1h-1zM262 615h1v1h-1zM263 615h1v1h-1zM264 615h1v1h-1zM265 614h1v1h-1zM266 613h1v1h-1zM267 612h1v1h-1zM268 613h1v2h-1zM269 615h1v1h-1zM270 610h1v5h-1zM271 606h1v4h-1zM272 605h1v1h-1zM273 605h1v1h-1zM274 606h1v1h-1zM275 607h1v1h-1zM276 607h1v1h-1zM277 607h1v1h-1zM278 606h1v1h-1zM279 606h1v1h-1zM280 606h1v1h-1zM281 607h1v3h-1zM282 610h1v3h-1zM283 613h1v3h-1zM284 616h1v1h-1zM285 617h1v1h-1zM286 618h1v1h-1zM287 619h1v1h-1zM288 620h1v1h-1zM289 620h1v1h-1zM290 620h1v1h-1zM291 620h1v1h-1zM292 620h1v1h-1zM293 620h1v1h-1zM294 620h1v1h-1zM295 621h1v1h-1zM296 616h1v5h-1zM297 613h1v3h-1zM298 612h1v1h-1zM299 613h1v1h-1zM300 613h1v1h-1zM301 613h1v1h-1zM302 612h1v1h-1zM303 611h1v1h-1zM304 610h1v1h-1zM305 610h1v1h-1zM306 609h1v1h-1zM307 609h1v1h-1zM308 608h1v1h-1zM309 608h1v2h-1zM310 610h1v1h-1zM311 611h1v2h-1zM312 613h1v2h-1zM313 615h1v1h-1zM314 616h1v2h-1zM315 618h1v1h-1zM316 619h1v2h-1zM317 621h1v2h-1zM318 623h1v1h-1zM319 624h1v1h-1zM320 625h1v1h-1zM321 625h1v1h-1zM322 626h1v1h-1zM323 627h1v1h-1zM324 627h1v1h-1zM325 626h1v1h-1zM326 625h1v1h-1zM327 621h1v4h-1zM328 617h1v4h-1zM329 616h1v1h-1zM330 617h1v4h-1zM331 621h1v5h-1zM332 626h1v1h-1zM333 627h1v1h-1zM334 626h1v1h-1zM335 625h1v1h-1zM336 625h1v1h-1zM337 624h1v1h-1zM338 623h1v1h-1zM339 622h1v1h-1zM340 621h1v1h-1zM341 620h1v1h-1zM342 619h1v1h-1zM343 618h1v1h-1zM344 619h1v5h-1zM345 624h1v5h-1zM346 629h1v1h-1zM347 630h1v1h-1zM348 631h1v1h-1zM349 631h1v1h-1zM350 632h1v1h-1zM351 632h1v1h-1zM352 633h1v1h-1zM353 634h1v1h-1zM354 634h1v1h-1zM355 635h1v1h-1zM356 635h1v1h-1zM357 636h1v1h-1zM358 636h1v1h-1zM359 636h1v1h-1zM360 635h1v1h-1zM361 634h1v1h-1zM362 633h1v1h-1zM363 632h1v1h-1zM364 632h1v2h-1zM365 634h1v1h-1zM366 633h1v1h-1zM367 632h1v1h-1zM368 631h1v1h-1zM369 631h1v1h-1zM370 630h1v1h-1zM371 630h1v1h-1zM372 630h1v1h-1zM373 630h1v1h-1zM374 630h1v1h-1zM375 631h1v1h-1zM376 631h1v1h-1zM377 632h1v1h-1zM378 633h1v1h-1zM379 633h1v1h-1zM380 632h1v1h-1zM381 631h1v1h-1zM382 630h1v1h-1zM383 629h1v1h-1zM384 629h1v1h-1zM385 628h1v1h-1zM386 628h1v1h-1zM387 627h1v1h-1zM388 628h1v2h-1zM389 630h1v2h-1zM390 631h1v2h-1zM391 629h1v2h-1zM392 628h1v1h-1zM393 627h1v1h-1zM394 626h1v2h-1zM395 628h1v1h-1zM396 629h1v1h-1zM397 628h1v1h-1zM398 627h1v1h-1zM399 626h1v1h-1zM400 625h1v2h-1zM401 627h1v2h-1zM402 629h1v1h-1zM403 624h1v6h-1zM404 618h1v6h-1zM405 616h1v2h-1zM406 614h1v2h-1zM407 613h1v1h-1zM408 612h1v1h-1zM409 611h1v1h-1zM410 611h1v1h-1zM411 611h1v1h-1zM412 611h1v1h-1zM413 611h1v1h-1zM414 612h1v1h-1zM415 613h1v1h-1zM416 613h1v1h-1zM417 614h1v1h-1zM418 614h1v1h-1zM419 613h1v2h-1zM420 611h1v2h-1zM421 610h1v1h-1zM422 609h1v1h-1zM423 609h1v1h-1zM424 607h1v2h-1zM425 602h1v5h-1zM426 598h1v4h-1zM427 596h1v2h-1zM428 595h1v1h-1zM429 594h1v1h-1zM430 593h1v1h-1zM431 592h1v1h-1zM432 592h1v1h-1zM433 592h1v1h-1zM434 591h1v1h-1zM435 591h1v1h-1zM436 590h1v1h-1zM437 589h1v1h-1zM438 588h1v1h-1zM439 587h1v1h-1zM440 587h1v1h-1zM441 588h1v1h-1zM442 588h1v1h-1zM443 588h1v1h-1zM444 587h1v1h-1zM445 587h1v1h-1zM446 587h1v1h-1zM447 588h1v1h-1zM448 588h1v1h-1zM449 588h1v1h-1zM450 587h1v1h-1zM451 586h1v1h-1zM452 586h1v1h-1zM453 586h1v1h-1zM454 585h1v1h-1zM455 585h1v1h-1zM456 585h1v1h-1zM457 586h1v1h-1zM458 587h1v1h-1zM459 587h1v1h-1zM460 587h1v1h-1zM461 587h1v1h-1zM462 588h1v6h-1zM463 594h1v3h-1zM464 597h1v1h-1zM465 598h1v1h-1zM466 598h1v1h-1zM467 599h1v1h-1zM468 599h1v1h-1zM469 599h1v1h-1zM470 599h1v1h-1zM471 600h1v1h-1zM472 599h1v1h-1zM473 598h1v1h-1zM474 598h1v1h-1zM475 597h1v1h-1zM476 596h1v1h-1zM477 596h1v1h-1zM478 595h1v1h-1zM479 595h1v1h-1zM480 596h1v1h-1zM481 597h1v1h-1zM482 597h1v1h-1zM483 598h1v1h-1zM484 598h1v5h-1zM485 603h1v6h-1zM486 609h1v6h-1zM487 615h1v7h-1zM488 622h1v3h-1zM489 625h1v1h-1zM490 626h1v1h-1zM491 627h1v1h-1zM492 628h1v1h-1zM493 627h1v1h-1zM494 626h1v1h-1zM495 625h1v2h-1zM496 627h1v3h-1zM497 630h1v2h-1zM498 632h1v2h-1zM499 634h1v1h-1zM500 632h1v2h-1zM501 631h1v1h-1zM502 630h1v1h-1zM503 629h1v1h-1zM504 629h1v1h-1zM505 628h1v1h-1zM506 628h1v1h-1zM507 627h1v1h-1zM508 626h1v1h-1zM509 627h1v1h-1zM510 628h1v1h-1zM511 626h1v3h-1zM512 623h1v3h-1zM513 620h1v3h-1zM514 619h1v1h-1zM515 619h1v1h-1zM516 619h1v1h-1zM517 619h1v1h-1zM518 620h1v1h-1zM519 620h1v1h-1zM520 620h1v1h-1zM521 620h1v1h-1zM522 616h1v4h-1zM523 613h1v3h-1zM524 611h1v2h-1zM525 610h1v1h-1zM526 611h1v1h-1zM527 609h1v3h-1zM528 607h1v2h-1zM529 606h1v1h-1zM530 606h1v1h-1zM531 606h1v4h-1zM532 610h1v4h-1zM533 614h1v1h-1zM534 614h1v2h-1zM535 613h1v1h-1zM536 612h1v1h-1zM537 611h1v1h-1zM538 610h1v1h-1zM539 610h1v1h-1zM540 611h1v1h-1zM541 612h1v2h-1zM542 614h1v1h-1zM543 615h1v1h-1zM544 615h1v1h-1zM545 614h1v1h-1zM546 613h1v1h-1zM547 612h1v1h-1zM548 612h1v1h-1zM549 612h1v1h-1zM550 612h1v1h-1zM551 612h1v2h-1zM552 614h1v2h-1zM553 616h1v1h-1zM554 617h1v1h-1zM555 616h1v1h-1zM556 616h1v1h-1zM557 616h1v3h-1zM558 619h1v3h-1zM559 622h1v1h-1zM560 623h1v1h-1zM561 623h1v1h-1zM562 622h1v1h-1zM563 623h1v1h-1zM564 624h1v1h-1zM565 624h1v1h-1zM566 623h1v1h-1zM567 622h1v1h-1zM568 622h1v1h-1zM569 623h1v1h-1zM570 623h1v1h-1zM571 624h1v1h-1zM572 623h1v1h-1zM573 623h1v1h-1zM574 622h1v1h-1zM575 619h1v3h-1zM576 616h1v3h-1zM577 615h1v1h-1zM578 616h1v2h-1zM579 618h1v1h-1zM580 618h1v1h-1zM581 618h1v1h-1zM582 619h1v1h-1zM583 619h1v1h-1zM584 619h1v1h-1zM585 619h1v1h-1zM586 618h1v1h-1zM587 618h1v1h-1zM588 618h1v1h-1zM589 617h1v1h-1zM590 615h1v2h-1zM591 612h1v3h-1zM592 609h1v3h-1zM593 606h1v3h-1zM594 603h1v3h-1zM595 602h1v2h-1zM596 604h1v1h-1zM597 605h1v1h-1zM598 606h1v1h-1zM599 605h1v1h-1zM600 605h1v2h-1zM601 607h1v1h-1zM602 608h1v2h-1zM603 610h1v1h-1zM604 611h1v1h-1zM605 610h1v1h-1zM606 611h1v4h-1zM607 615h1v3h-1zM608 618h1v3h-1zM609 621h1v4h-1zM610 625h1v1h-1zM611 625h1v1h-1zM612 626h1v1h-1zM613 627h1v1h-1zM614 624h1v4h-1zM615 621h1v3h-1zM616 617h1v4h-1zM617 615h1v2h-1zM618 614h1v1h-1zM619 613h1v1h-1zM620 611h1v2h-1zM621 610h1v1h-1zM622 609h1v1h-1zM623 609h1v1h-1zM624 610h1v1h-1zM625 611h1v1h-1zM626 612h1v1h-1zM627 613h1v2h-1zM628 615h1v2h-1zM629 617h1v2h-1zM630 619h1v1h-1zM631 619h1v2h-1zM632 615h1v4h-1zM633 613h1v2h-1zM634 612h1v1h-1zM635 613h1v1h-1zM636 613h1v1h-1zM637 611h1v2h-1zM638 609h1v2h-1zM639 608h1v1h-1zM640 608h1v2h-1zM641 610h1v2h-1zM642 612h1v2h-1zM643 614h1v1h-1zM644 615h1v2h-1zM645 617h1v1h-1zM646 616h1v1h-1zM647 615h1v1h-1zM648 614h1v1h-1zM649 614h1v1h-1zM650 614h1v1h-1zM651 614h1v1h-1zM652 614h1v1h-1zM653 614h1v1h-1zM654 614h1v1h-1zM655 613h1v1h-1zM656 613h1v1h-1zM657 613h1v2h-1zM658 615h1v1h-1zM659 616h1v2h-1zM660 618h1v1h-1zM661 619h1v1h-1zM662 619h1v1h-1zM663 618h1v1h-1zM664 617h1v1h-1zM665 618h1v1h-1zM666 619h1v1h-1zM667 620h1v1h-1zM668 619h1v1h-1zM669 619h1v1h-1zM670 620h1v1h-1zM671 620h1v2h-1zM672 619h1v1h-1zM673 617h1v2h-1zM674 616h1v1h-1zM675 614h1v2h-1zM676 613h1v1h-1zM677 611h1v2h-1zM678 610h1v1h-1zM679 610h1v1h-1zM680 610h1v1h-1zM681 611h1v1h-1zM682 612h1v1h-1zM683 612h1v3h-1zM684 615h1v2h-1zM685 617h1v2h-1zM686 619h1v1h-1zM687 617h1v2h-1zM688 616h1v1h-1zM689 614h1v2h-1zM690 612h1v2h-1zM691 609h1v3h-1zM692 606h1v3h-1zM693 603h1v3h-1zM694 601h1v2h-1zM695 600h1v1h-1zM696 601h1v2h-1zM697 603h1v1h-1zM698 602h1v1h-1zM699 601h1v1h-1zM700 599h1v2h-1zM701 598h1v1h-1zM702 598h1v1h-1zM703 598h1v1h-1zM704 597h1v1h-1zM705 597h1v1h-1zM706 597h1v1h-1zM707 597h1v1h-1zM708 598h1v1h-1zM709 599h1v3h-1zM710 602h1v2h-1zM711 604h1v3h-1zM712 607h1v2h-1zM713 609h1v2h-1zM714 611h1v1h-1zM715 612h1v2h-1zM716 614h1v1h-1zM717 615h1v2h-1zM718 617h1v2h-1zM719 619h1v1h-1zM720 620h1v1h-1zM721 620h1v1h-1zM722 620h1v1h-1zM723 620h1v1h-1zM724 620h1v1h-1zM725 619h1v2h-1zM726 617h1v2h-1zM727 615h1v2h-1zM728 614h1v1h-1zM729 613h1v1h-1zM730 613h1v1h-1zM731 612h1v1h-1zM732 611h1v2h-1zM733 609h1v2h-1zM734 607h1v2h-1zM735 603h1v4h-1zM736 599h1v4h-1zM737 598h1v2h-1zM738 600h1v3h-1zM739 603h1v3h-1zM740 606h1v1h-1zM741 605h1v1h-1zM742 605h1v1h-1zM743 604h1v1h-1zM744 604h1v1h-1zM745 605h1v1h-1zM746 605h1v1h-1zM747 605h1v1h-1zM748 606h1v1h-1zM749 607h1v2h-1zM750 609h1v3h-1zM751 612h1v2h-1zM752 614h1v1h-1zM753 614h1v1h-1zM754 614h1v1h-1zM755 613h1v1h-1zM756 613h1v1h-1zM757 613h1v1h-1zM758 613h1v2h-1zM759 615h1v2h-1zM760 617h1v3h-1zM761 620h1v1h-1zM762 620h1v2h-1zM763 617h1v3h-1zM764 615h1v2h-1zM765 614h1v1h-1zM766 614h1v1h-1zM767 614h1v1h-1zM768 614h1v1h-1zM769 613h1v1h-1zM770 610h1v3h-1zM771 607h1v3h-1zM772 604h1v3h-1zM773 601h1v3h-1zM774 600h1v1h-1zM775 599h1v1h-1zM776 600h1v2h-1zM777 602h1v1h-1zM778 600h1v2h-1zM779 599h1v1h-1zM780 599h1v1h-1zM781 599h1v1h-1zM782 600h1v1h-1zM783 601h1v1h-1zM784 601h1v1h-1zM785 599h1v2h-1zM786 598h1v1h-1zM787 597h1v1h-1zM788 596h1v1h-1zM789 595h1v1h-1zM790 594h1v1h-1zM791 593h1v1h-1zM792 593h1v1h-1zM793 593h1v1h-1zM794 593h1v1h-1zM795 593h1v3h-1zM796 596h1v3h-1zM797 599h1v3h-1zM798 602h1v4h-1zM799 606h1v2h-1zM800 608h1v1h-1zM801 609h1v1h-1zM802 609h1v1h-1zM803 609h1v1h-1zM804 610h1v1h-1zM805 611h1v1h-1zM806 611h1v1h-1zM807 612h1v2h-1zM808 614h1v3h-1zM809 617h1v2h-1zM810 619h1v2h-1zM811 621h1v1h-1zM812 621h1v1h-1zM813 622h1v1h-1zM814 622h1v1h-1zM815 622h1v1h-1zM816 621h1v2h-1zM817 620h1v1h-1zM818 618h1v2h-1zM819 617h1v2h-1zM820 619h1v3h-1zM821 622h1v1h-1zM822 623h1v1h-1zM823 624h1v1h-1zM824 623h1v2h-1zM825 618h1v5h-1zM826 613h1v5h-1zM827 612h1v1h-1zM828 611h1v1h-1zM829 610h1v1h-1zM830 610h1v2h-1zM831 612h1v1h-1zM832 613h1v3h-1zM833 616h1v3h-1zM834 619h1v3h-1zM835 622h1v1h-1zM836 620h1v2h-1zM837 618h1v2h-1zM838 617h1v1h-1zM839 617h1v1h-1zM840 616h1v1h-1zM841 616h1v1h-1zM842 615h1v1h-1zM843 615h1v2h-1zM844 617h1v4h-1zM845 619h1v3h-1zM846 616h1v3h-1zM847 615h1v1h-1zM848 614h1v1h-1zM849 614h1v1h-1zM850 613h1v1h-1zM851 613h1v1h-1zM852 612h1v1h-1zM853 611h1v1h-1zM854 610h1v1h-1zM855 609h1v1h-1zM856 609h1v1h-1zM857 610h1v1h-1zM858 611h1v1h-1zM859 611h1v1h-1zM860 612h1v1h-1zM861 612h1v1h-1zM862 613h1v1h-1zM863 613h1v1h-1zM864 613h1v1h-1zM865 612h1v1h-1zM866 611h1v1h-1zM867 609h1v2h-1zM868 608h1v1h-1zM869 606h1v2h-1zM870 605h1v1h-1zM871 604h1v1h-1zM872 603h1v2h-1zM873 605h1v1h-1zM874 606h1v1h-1zM875 605h1v1h-1zM876 604h1v1h-1zM877 603h1v1h-1zM878 604h1v1h-1zM879 604h1v1h-1zM880 604h1v1h-1zM881 604h1v1h-1zM882 601h1v3h-1zM883 599h1v2h-1zM884 597h1v2h-1zM885 595h1v2h-1zM886 593h1v2h-1zM887 592h1v2h-1zM888 594h1v2h-1zM889 596h1v1h-1zM890 597h1v1h-1zM891 597h1v1h-1zM892 598h1v1h-1zM893 597h1v1h-1zM894 596h1v1h-1zM895 595h1v2h-1zM896 597h1v3h-1zM897 600h1v4h-1zM898 604h1v4h-1zM899 608h1v1h-1zM900 609h1v1h-1zM901 609h1v1h-1zM902 609h1v1h-1zM903 608h1v1h-1zM904 607h1v1h-1zM905 606h1v5h-1zM906 611h1v5h-1zM907 616h1v2h-1zM908 618h1v1h-1zM909 617h1v1h-1zM910 616h1v1h-1zM911 615h1v1h-1zM912 615h1v1h-1zM913 614h1v1h-1zM914 614h1v2h-1zM915 616h1v2h-1zM916 618h1v3h-1zM917 621h1v4h-1zM918 625h1v3h-1zM919 628h1v1h-1zM920 629h1v1h-1zM921 628h1v1h-1zM922 627h1v1h-1zM923 627h1v1h-1zM924 626h1v2h-1zM925 624h1v2h-1zM926 623h1v1h-1z" fill="#1e90ff"/>
<path d="M4 598h3v1h-3zM10 598h3v1h-3zM16 598h3v1h-3zM22 598h3v1h-3zM28 598h3v1h-3zM34 598h3v1h-3zM40 598h3v1h-3zM46 598h3v1h-3zM52 598h3v1h-3zM58 598h3v1h-3zM64 598h3v1h-3zM70 598h3v1h-3zM76 598h3v1h-3zM82 598h3v1h-3zM88 598h3v1h-3zM94 598h3v1h-3zM100 598h3v1h-3zM106 598h3v1h-3zM112 598h3v1h-3zM118 598h3v1h-3zM124 598h3v1h-3zM130 598h3v1h-3zM136 598h3v1h-3zM142 598h3v1h-3zM148 598h3v1h-3zM154 598h3v1h-3zM160 598h3v1h-3zM166 598h3v1h-3zM172 598h3v1h-3zM178 598h3v1h-3zM184 598h3v1h-3zM190 598h3v1h-3zM196 598h3v1h-3zM202 598h3v1h-3zM208 598h3v1h-3zM214 598h3v1h-3zM220 598h3v1h-3zM226 598h3v1h-3zM232 598h3v1h-3zM238 598h3v1h-3zM244 598h3v1h-3zM250 598h3v1h-3zM256 598h3v1h-3zM262 598h3v1h-3zM268 598h3v1h-3zM274 598h3v1h-3zM280 598h3v1h-3zM286 598h3v1h-3zM292 598h3v1h-3zM298 598h3v1h-3zM304 598h3v1h-3zM310 598h3v1h-3zM316 598h3v1h-3zM322 598h3v1h-3zM328 598h3v1h-3zM334 598h3v1h-3zM340 598h3v1h-3zM346 598h3v1h-3zM352 598h3v1h-3zM358 598h3v1h-3zM364 598h3v1h-3zM370 598h3v1h-3zM376 598h3v1h-3zM382 598h3v1h-3zM388 598h3v1h-3zM394 598h3v1h-3zM400 598h3v1h-3zM406 598h3v1h-3zM412 598h3v1h-3zM418 598h3v1h-3zM424 598h3v1h-3zM430 598h3v1h-3zM436 598h3v1h-3zM442 598h3v1h-3zM448 598h3v1h-3zM454 598h3v1h-3zM460 598h3v1h-3zM466 598h3v1h-3zM472 598h3v1h-3zM478 598h3v1h-3zM484 598h3v1h-3zM490 598h3v1h-3zM496 598h3v1h-3zM502 598h3v1h-3zM508 598h3v1h-3zM514 598h3v1h-3zM520 598h3v1h-3zM526 598h3v1h-3zM532 598h3v1h-3zM538 598h3v1h-3zM544 598h3v1h-3zM550 598h3v1h-3zM556 598h3v1h-3zM562 598h3v1h-3zM568 598h3v1h-3zM574 598h3v1h-3zM580 598h3v1h-3zM586 598h3v1h-3zM592 598h3v1h-3zM598 598h3v1h-3zM604 598h3v1h-3zM610 598h3v1h-3zM616 598h3v1h-3zM622 598h3v1h-3zM628 598h3v1h-3zM634 598h3v1h-3zM640 598h3v1h-3zM646 598h3v1h-3zM652 598h3v1h-3zM658 598h3v1h-3zM664 598h3v1h-3zM670 598h3v1h-3zM676 598h3v1h-3zM682 598h3v1h-3zM688 598h3v1h-3zM694 598h3v1h-3zM700 598h3v1h-3zM706 598h3v1h-3zM712 598h3v1h-3zM718 598h3v1h-3zM724 598h3v1h-3zM730 598h3v1h-3zM736 598h3v1h-3zM742 598h3v1h-3zM748 598h3v1h-3zM754 598h3v1h-3zM760 598h3v1h-3zM766 598h3v1h-3zM772 598h3v1h-3zM778 598h3v1h-3zM784 598h3v1h-3zM790 598h3v1h-3zM796 598h3v1h-3zM802 598h3v1h-3zM808 598h3v1h-3zM814 598h3v1h-3zM820 598h3v1h-3zM826 598h3v1h-3zM832 598h3v1h-3zM838 598h3v1h-3zM844 598h3v1h-3zM850 598h3v1h-3zM856 598h3v1h-3zM862 598h3v1h-3zM868 598h3v1h-3zM874 598h3v1h-3zM880 598h3v1h-3zM886 598h3v1h-3zM892 598h3v1h-3zM898 598h3v1h-3zM904 598h3v1h-3zM910 598h3v1h-3zM916 598h3v1h-3zM922 598h3v1h-3zM928 598h3v1h-3zM934 598h3v1h-3zM940 598h3v1h-3zM946 598h3v1h-3zM952 598h3v1h-3zM958 598h3v1h-3zM964 598h3v1h-3zM970 598h3v1h-3zM976 598h3v1h-3zM982 598h3v1h-3zM988 598h3v1h-3zM994 598h3v1h-3zM1000 598h3v1h-3zM1006 598h3v1h-3zM1012 598h3v1h-3zM1018 598h3v1h-3zM1024 598h3v1h-3zM1030 598h3v1h-3zM1036 598h3v1h-3zM1042 598h3v1h-3zM1048 598h3v1h-3zM1054 598h3v1h-3zM1060 598h3v1h-3zM1066 598h3v1h-3zM1072 598h3v1h-3zM1078 598h3v1h-3zM1084 598h3v1h-3zM1090 598h3v1h-3zM1096 598h3v1h-3zM1102 598h3v1h-3zM1108 598h3v1h-3zM1114 598h3v1h-3zM1120 598h3v1h-3zM1126 598h3v1h-3zM1132 598h3v1h-3zM1138 598h3v1h-3zM1144 598h3v1h-3zM1150 598h3v1h-3zM1156 598h3v1h-3zM1162 598h3v1h-3z" fill="#c0c0c0"/>
<path d="M4 632h3v1h-3zM10 632h3v1h-3zM16 632h3v1h-3zM22 632h3v1h-3zM28 632h3v1h-3zM34 632h3v1h-3zM40 632h3v1h-3zM46 632h3v1h-3zM52 632h3v1h-3zM58 632h3v1h-3zM64 632h3v1h-3zM70 632h3v1h-3zM76 632h3v1h-3zM82 632h3v1h-3zM88 632h3v1h-3zM94 632h3v1h-3zM100 632h3v1h-3zM106 632h3v1h-3zM112 632h3v1h-3zM118 632h3v1h-3zM124 632h3v1h-3zM130 632h3v1h-3zM136 632h3v1h-3zM142 632h3v1h-3zM148 632h3v1h-3zM154 632h3v1h-3zM160 632h3v1h-3zM166 632h3v1h-3zM172 632h3v1h-3zM178 632h3v1h-3zM184 632h3v1h-3zM190 632h3v1h-3zM196 632h3v1h-3zM202 632h3v1h-3zM208 632h3v1h-3zM214 632h3v1h-3zM220 632h3v1h-3zM226 632h3v1h-3zM232 632h3v1h-3zM238 632h3v1h-3zM244 632h3v1h-3zM250 632h3v1h-3zM256 632h3v1h-3zM262 632h3v1h-3zM268 632h3v1h-3zM274 632h3v1h-3zM280 632h3v1h-3zM286 632h3v1h-3zM292 632h3v1h-3zM298 632h3v1h-3zM304 632h3v1h-3zM310 632h3v1h-3zM316 632h3v1h-3zM322 632h3v1h-3zM328 632h3v1h-3zM334 632h3v1h-3zM340 632h3v1h-3zM346 632h3v1h-3zM352 632h3v1h-3zM358 632h3v1h-3zM364 632h3v1h-3zM370 632h3v1h-3zM376 632h3v1h-3zM382 632h3v1h-3zM388 632h3v1h-3zM394 632h3v1h-3zM400 632h3v1h-3zM406 632h3v1h-3zM412 632h3v1h-3zM418 632h3v1h-3zM424 632h3v1h-3zM430 632h3v1h-3zM436 632h3v1h-3zM442 632h3v1h-3zM448 632h3v1h-3zM454 632h3v1h-3zM460 632h3v1h-3zM466 632h3v1h-3zM472 632h3v1h-3zM478 632h3v1h-3zM484 632h3v1h-3zM490 632h3v1h-3zM496 632h3v1h-3zM502 632h3v1h-3zM508 632h3v1h-3zM514 632h3v1h-3zM520 632h3v1h-3zM526 632h3v1h-3zM532 632h3v1h-3zM538 632h3v1h-3zM544 632h3v1h-3zM550 632h3v1h-3zM556 632h3v1h-3zM562 632h3v1h-3zM568 632h3v1h-3zM574 632h3v1h-3zM580 632h3v1h-3zM586 632h3v1h-3zM592 632h3v1h-3zM598 632h3v1h-3zM604 632h3v1h-3zM610 632h3v1h-3zM616 632h3v1h-3zM622 632h3v1h-3zM628 632h3v1h-3zM634 632h3v1h-3zM640 632h3v1h-3zM646 632h3v1h-3zM652 632h3v1h-3zM658 632h3v1h-3zM664 632h3v1h-3zM670 632h3v1h-3zM676 632h3v1h-3zM682 632h3v1h-3zM688 632h3v1h-3zM694 632h3v1h-3zM700 632h3v1h-3zM706 632h3v1h-3zM712 632h3v1h-3zM718 632h3v1h-3zM724 632h3v1h-3zM730 632h3v1h-3zM736 632h3v1h-3zM742 632h3v1h-3zM748 632h3v1h-3zM754 632h3v1h-3zM760 632h3v1h-3zM766 632h3v1h-3zM772 632h3v1h-3zM778 632h3v1h-3zM784 632h3v1h-3zM790 632h3v1h-3zM796 632h3v1h-3zM802 632h3v1h-3zM808 632h3v1h-3zM814 632h3v1h-3zM820 632h3v1h-3zM826 632h3v1h-3zM832 632h3v1h-3zM838 632h3v1h-3zM844 632h3v1h-3zM850 632h3v1h-3zM856 632h3v1h-3zM862 632h3v1h-3zM868 632h3v1h-3zM874 632h3v1h-3zM880 632h3v1h-3zM886 632h3v1h-3zM892 632h3v1h-3zM898 632h3v1h-3zM904 632h3v1h-3zM910 632h3v1h-3zM916 632h3v1h-3zM922 632h3v1h-3zM928 632h3v1h-3zM934 632h3v1h-3zM940 632h3v1h-3zM946 632h3v1h-3zM952 632h3v1h-3zM958 632h3v1h-3zM964 632h3v1h-3zM970 632h3v1h-3zM976 632h3v1h-3zM982 632h3v1h-3zM988 632h3v1h-3zM994 632h3v1h-3zM1000 632h3v1h-3zM1006 632h3v1h-3zM1012 632h3v1h-3zM1018 632h3v1h-3zM1024 632h3v1h-3zM1030 632h3v1h-3zM1036 632h3v1h-3zM1042 632h3v1h-3zM1048 632h3v1h-3zM1054 632h3v1h-3zM1060 632h3v1h-3zM1066 632h3v1h-3zM1072 632h3v1h-3zM1078 632h3v1h-3zM1084 632h3v1h-3zM1090 632h3v1h-3zM1096 632h3v1h-3zM1102 632h3v1h-3zM1108 632h3v1h-3zM1114 632h3v1h-3zM1120 632h3v1h-3zM1126 632h3v1h-3zM1132 632h3v1h-3zM1138 632h3v1h-3zM1144 632h3v1h-3zM1150 632h3v1h-3zM1156 632h3v1h-3zM1162 632h3v1h-3z" fill="#c0c0c0"/>
</g>
<g shape-rendering="crispEdges">
<rect x="2" y="23" width="1164" height="1" fill="#000"/>
<rect x="2" y="23" width="1" height="461" fill="#000"/>
<rect x="2" y="483" width="1164" height="1" fill="#000"/>
<rect x="2" y="485" width="1164" height="1" fill="#000"/>
<rect x="2" y="485" width="1" height="85" fill="#000"/>
<rect x="2" y="569" width="1164" height="1" fill="#000"/>
<rect x="2" y="571" width="1164" height="1" fill="#000"/>
<rect x="2" y="571" width="1" height="88" fill="#000"/>
<rect x="2" y="658" width="1164" height="1" fill="#000"/>
<rect x="1165" y="23" width="1" height="636" fill="#000"/>
<rect x="2" y="264" width="1" height="6" fill="#00ff00"/>
<rect x="2" y="342" width="1" height="6" fill="#0000ff"/>
<rect x="1166" y="51" width="2" height="1" fill="#000"/>
<rect x="1166" y="84" width="2" height="1" fill="#000"/>
<rect x="1166" y="117" width="2" height="1" fill="#000"/>
<rect x="1166" y="150" width="2" height="1" fill="#000"/>
<rect x="1166" y="183" width="2" height="1" fill="#000"/>
<rect x="1166" y="216" width="2" height="1" fill="#000"/>
<rect x="1166" y="249" width="2" height="1" fill="#000"/>
<rect x="1166" y="282" width="2" height="1" fill="#000"/>
<rect x="1166" y="315" width="2" height="1" fill="#000"/>
<rect x="1166" y="348" width="2" height="1" fill="#000"/>
<rect x="1166" y="381" width="2" height="1" fill="#000"/>
<rect x="1166" y="414" width="2" height="1" fill="#000"/>
<rect x="1166" y="447" width="2" height="1" fill="#000"/>
<rect x="1166" y="480" width="2" height="1" fill="#000"/>
<rect x="1166" y="540" width="2" height="1" fill="#000"/>
<rect x="1166" y="487" width="1" height="1" fill="#000"/>
<rect x="1166" y="568" width="1" height="1" fill="#000"/>
<rect x="1166" y="573" width="1" height="1" fill="#000"/>
<rect x="1166" y="657" width="1" height="1" fill="#000"/>
<rect x="3" y="659" width="1" height="3" fill="#000"/>
<rect x="67" y="659" width="1" height="3" fill="#000"/>
<rect x="131" y="659" width="1" height="3" fill="#000"/>
<rect x="195" y="659" width="1" height="3" fill="#000"/>
<rect x="259" y="659" width="1" height="3" fill="#000"/>
<rect x="323" y="659" width="1" height="3" fill="#000"/>
<rect x="387" y="659" width="1" height="3" fill="#000"/>
<rect x="451" y="659" width="1" height="3" fill="#000"/>
<rect x="515" y="659" width="1" height="3" fill="#000"/>
<rect x="579" y="659" width="1" height="3" fill="#000"/>
<rect x="643" y="659" width="1" height="3" fill="#000"/>
<rect x="707" y="659" width="1" height="3" fill="#000"/>
<rect x="771" y="659" width="1" height="3" fill="#000"/>
<rect x="835" y="659" width="1" height="3" fill="#000"/>
<rect x="899" y="659" width="1" height="3" fill="#000"/>
</g>
<path d="M6 34l3.5-4 3.5 4z" fill="#000"/>
</svg>
<div class="t" style="left:1171px;top:48px;font-size:9.6px;color:#000;transform:scaleX(0.945);">0.93630</div>
<div class="t" style="left:1171px;top:81px;font-size:9.6px;color:#000;transform:scaleX(0.945);">0.93360</div>
<div class="t" style="left:1171px;top:114px;font-size:9.6px;color:#000;transform:scaleX(0.945);">0.93085</div>
<div class="t" style="left:1171px;top:147px;font-size:9.6px;color:#000;transform:scaleX(0.945);">0.92815</div>
<div class="t" style="left:1171px;top:180px;font-size:9.6px;color:#000;transform:scaleX(0.945);">0.92545</div>
<div class="t" style="left:1171px;top:213px;font-size:9.6px;color:#000;transform:scaleX(0.945);">0.92270</div>
<div class="t" style="left:1171px;top:246px;font-size:9.6px;color:#000;transform:scaleX(0.945);">0.92000</div>
<div class="t" style="left:1171px;top:279px;font-size:9.6px;color:#000;transform:scaleX(0.945);">0.91730</div>
<div class="t" style="left:1171px;top:312px;font-size:9.6px;color:#000;transform:scaleX(0.945);">0.91455</div>
<div class="t" style="left:1171px;top:345px;font-size:9.6px;color:#000;transform:scaleX(0.945);">0.91185</div>
<div class="t" style="left:1171px;top:378px;font-size:9.6px;color:#000;transform:scaleX(0.945);">0.90915</div>
<div class="t" style="left:1171px;top:411px;font-size:9.6px;color:#000;transform:scaleX(0.945);">0.90640</div>
<div class="t" style="left:1171px;top:444px;font-size:9.6px;color:#000;transform:scaleX(0.945);">0.90370</div>
<div class="t" style="left:1171px;top:477px;font-size:9.6px;color:#000;transform:scaleX(0.945);">0.90100</div>
<div class="lb" style="top:36px;background:#ff0000;color:#fff"><span>0.93702</span></div>
<div class="lb" style="top:158px;background:#ff0000;color:#fff"><span>0.92699</span></div>
<div class="lb" style="top:168px;background:#000000;color:#fff"><span>0.92629</span></div>
<div class="lb" style="top:261px;background:#00ff00;color:#fff"><span>0.91855</span></div>
<div class="lb" style="top:339px;background:#0000ff;color:#fff"><span>0.91208</span></div>
<div class="lb" style="top:437px;background:#0000ff;color:#fff"><span>0.90405</span></div>
<div class="t" style="left:1169px;top:489px;font-size:9.6px;color:#000;transform:scaleX(0.945);">0.006451</div>
<div class="t" style="left:1171px;top:537px;font-size:9.6px;color:#000;transform:scaleX(0.945);">0.00</div>
<div class="t" style="left:1168px;top:559px;font-size:9.6px;color:#000;transform:scaleX(0.945);">-0.003507</div>
<div class="t" style="left:1169px;top:575px;font-size:9.6px;color:#000;transform:scaleX(0.945);">100</div>
<div class="t" style="left:1169px;top:595px;font-size:9.6px;color:#000;transform:scaleX(0.945);">70</div>
<div class="t" style="left:1169px;top:629px;font-size:9.6px;color:#000;transform:scaleX(0.945);">30</div>
<div class="t" style="left:1169px;top:648px;font-size:9.6px;color:#000;transform:scaleX(0.945);">0</div>
<div class="t" style="left:2px;top:664px;font-size:9.6px;color:#000;transform:scaleX(0.945);">18 Jun 2021</div>
<div class="t" style="left:66px;top:664px;font-size:9.6px;color:#000;transform:scaleX(0.945);">25 Jun 18:00</div>
<div class="t" style="left:130px;top:664px;font-size:9.6px;color:#000;transform:scaleX(0.945);">3 Jul 00:00</div>
<div class="t" style="left:194px;top:664px;font-size:9.6px;color:#000;transform:scaleX(0.945);">12 Jul 11:00</div>
<div class="t" style="left:258px;top:664px;font-size:9.6px;color:#000;transform:scaleX(0.945);">19 Jul 19:00</div>
<div class="t" style="left:322px;top:664px;font-size:9.6px;color:#000;transform:scaleX(0.945);">27 Jul 00:00</div>
<div class="t" style="left:386px;top:664px;font-size:9.6px;color:#000;transform:scaleX(0.945);">3 Aug 10:00</div>
<div class="t" style="left:450px;top:664px;font-size:9.6px;color:#000;transform:scaleX(0.945);">10 Aug 18:00</div>
<div class="t" style="left:514px;top:664px;font-size:9.6px;color:#000;transform:scaleX(0.945);">18 Aug 00:00</div>
<div class="t" style="left:578px;top:664px;font-size:9.6px;color:#000;transform:scaleX(0.945);">25 Aug 10:00</div>
<div class="t" style="left:642px;top:664px;font-size:9.6px;color:#000;transform:scaleX(0.945);">1 Sep 18:00</div>
<div class="t" style="left:706px;top:664px;font-size:9.6px;color:#000;transform:scaleX(0.945);">9 Sep 00:00</div>
<div class="t" style="left:770px;top:664px;font-size:9.6px;color:#000;transform:scaleX(0.945);">16 Sep 10:00</div>
<div class="t" style="left:834px;top:664px;font-size:9.6px;color:#000;transform:scaleX(0.945);">23 Sep 18:00</div>
<div class="t" style="left:898px;top:664px;font-size:9.6px;color:#000;transform:scaleX(0.945);">1 Oct 00:00</div>
<div class="t" style="left:18px;top:28px;font-size:9.6px;color:#000;transform:scaleX(0.984);">USDCHF,H4&nbsp; 0.92577 0.92636 0.92525 0.92629</div>
<div class="t" style="left:7px;top:491px;font-size:9.6px;color:#000;transform:scaleX(0.979);">MACD(12,26,9) -0.001079 -0.000158</div>
<div class="t" style="left:7px;top:577px;font-size:9.6px;color:#000;transform:scaleX(0.972);">RSI(14) 42.7646</div>

<div id="pn">
 <div class="pb" style="left:0;top:0;width:52px;height:24px;"></div>
 <div class="pb" style="left:167px;top:0;width:52px;height:24px;"></div>
 <div class="pl" style="left:0;top:24px;width:109px;height:33px;"></div>
 <div class="pl" style="left:111px;top:24px;width:108px;height:33px;"></div>
 <div class="ul" style="left:4px;top:24px;width:44px;"></div>
 <div class="ul" style="left:171px;top:24px;width:44px;"></div>
 <div id="spin"><div class="sb" style="left:1px;"><i class="dn"></i></div><div class="sb" style="right:1px;"><i class="up"></i></div><span id="vol">3.00</span></div>
 <span class="bt" style="left:13px;transform:scaleX(0.80);transform-origin:0 0;">SELL</span>
 <span class="bt" style="left:181px;transform:scaleX(0.91);transform-origin:0 0;">BUY</span>
 <span class="sm" style="left:19px;top:43px;">0.92</span>
 <span class="bg" style="left:48px;top:23px;">63</span>
 <span class="sm" style="left:87px;top:27px;">2</span>
 <span class="sm" style="left:129px;top:43px;">0.92</span>
 <span class="bg" style="left:159px;top:23px;">64</span>
 <span class="sm" style="left:198px;top:27px;">6</span>
</div>

<div id="tabs"><div id="tabbg"></div><div id="tabln0"></div><div id="tabln"></div><div id="tabact"></div><div id="tabactb"></div>
<span class="tn" style="left:16px">EURUSD,H4</span>
<span class="tn" style="left:107px">AUDUSD,Daily</span>
<span class="tn act" style="left:210px">USDCHF,H4</span>
<span class="tn" style="left:299px">USDCAD,Daily</span>
<span class="tn" style="left:402px">USDCNH,Daily</span>
<span class="tn" style="left:508px">UKOil,Daily</span>
<span class="tn" style="left:594px">DJ30,H1</span>
<span class="tn" style="left:664px">USDX,H1</span>
<span class="tn" style="left:739px">XAUUSD,H4</span>
<span class="tn" style="left:832px">GBPUSD,H1</span>
<div class="tsep" style="left:96px"></div>
<div class="tsep" style="left:392px"></div>
<div class="tsep" style="left:497px"></div>
<div class="tsep" style="left:583px"></div>
<div class="tsep" style="left:653px"></div>
<div class="tsep" style="left:728px"></div>
<div class="tsep" style="left:820px"></div>
<div class="tsep" style="left:912px"></div>
<i class="arl"></i><i class="arr"></i>
</div>
</body></html>
